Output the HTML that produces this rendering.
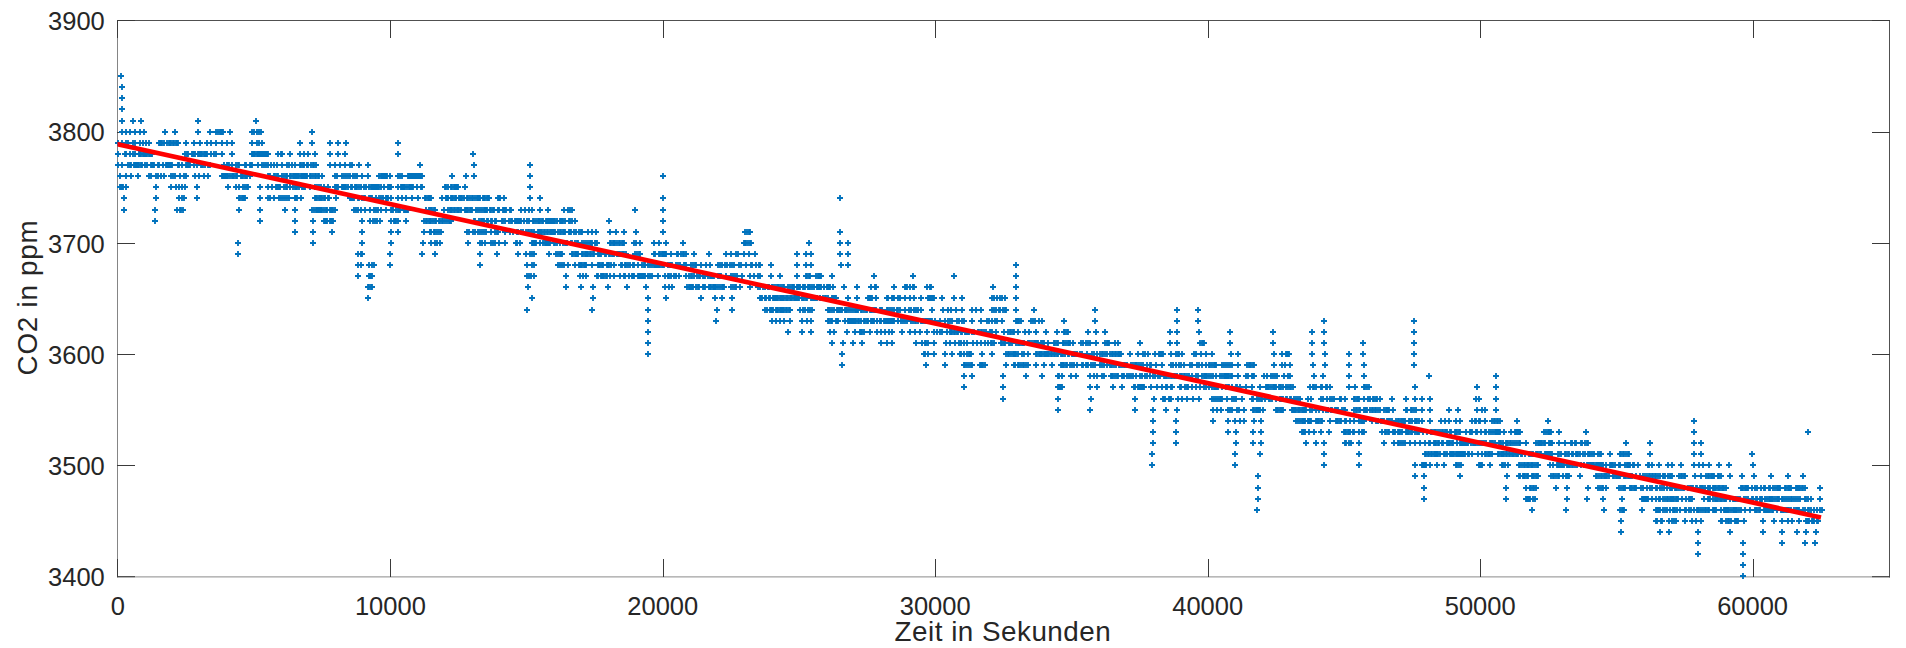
<!DOCTYPE html>
<html lang="de"><head><meta charset="utf-8"><title>CO2 in ppm</title>
<style>html,body{margin:0;padding:0;background:#fff;overflow:hidden}svg{display:block}text{font-family:"Liberation Sans",Arial,Helvetica,sans-serif}</style>
</head><body>
<svg width="1906" height="648" viewBox="0 0 1906 648">
<rect x="0" y="0" width="1906" height="648" fill="#fff"/>
<path d="M117.0 576.9H1890.0" stroke="#8a8a8a" stroke-width="1" fill="none"/>
<path d="M117.5 20.5V577.4" stroke="#858585" stroke-width="1" fill="none"/>
<path d="M117.0 20.5H1890.0" stroke="#505050" stroke-width="1" fill="none"/>
<path d="M1889.5 20.5V577.4" stroke="#505050" stroke-width="1" fill="none"/>
<path d="M117.5 577v-18M117.5 20.0v18M390.5 577v-18M390.5 20.0v18M663.5 577v-18M663.5 20.0v18M935.5 577v-18M935.5 20.0v18M1208.5 577v-18M1208.5 20.0v18M1480.5 577v-18M1480.5 20.0v18M1753.5 577v-18M1753.5 20.0v18M117.0 576.7h18M1890.0 576.7h-18M117.0 465.5h18M1890.0 465.5h-18M117.0 354.5h18M1890.0 354.5h-18M117.0 243.5h18M1890.0 243.5h-18M117.0 132.5h18M1890.0 132.5h-18M117.0 20.5h18M1890.0 20.5h-18" stroke="#3a3a3a" stroke-width="1" fill="none"/>
<path d="M118 76h6M121 73v6M119 87h6M122 84v6M119 98h6M122 95v6M119 109h6M122 106v6M119 121h6M122 118v6M130 121h6M133 118v6M138 121h6M141 118v6M195 121h6M198 118v6M253 121h6M256 118v6M119 132h6M122 129v6M132 132h6M135 129v6M123 132h6M126 129v6M127 132h6M130 129v6M137 132h6M140 129v6M141 132h6M144 129v6M162 132h6M165 129v6M172 132h6M175 129v6M195 132h6M198 129v6M207 132h6M210 129v6M213 132h6M216 129v6M220 132h6M223 129v6M215 132h6M218 129v6M217 132h6M220 129v6M218 132h6M221 129v6M219 132h6M222 129v6M227 132h6M230 129v6M249 132h6M252 129v6M258 132h6M261 129v6M251 132h6M254 129v6M254 132h6M257 129v6M256 132h6M259 129v6M309 132h6M312 129v6M115 143h6M118 140v6M119 143h6M122 140v6M132 143h6M135 140v6M123 143h6M126 140v6M125 143h6M128 140v6M130 143h6M133 140v6M137 143h6M140 140v6M146 143h6M149 140v6M140 143h6M143 140v6M143 143h6M146 140v6M156 143h6M159 140v6M175 143h6M178 140v6M157 143h6M160 140v6M158 143h6M161 140v6M159 143h6M162 140v6M161 143h6M164 140v6M164 143h6M167 140v6M166 143h6M169 140v6M167 143h6M170 140v6M168 143h6M171 140v6M170 143h6M173 140v6M171 143h6M174 140v6M173 143h6M176 140v6M174 143h6M177 140v6M183 143h6M186 140v6M191 143h6M194 140v6M229 143h6M232 140v6M197 143h6M200 140v6M204 143h6M207 140v6M208 143h6M211 140v6M213 143h6M216 140v6M219 143h6M222 140v6M224 143h6M227 140v6M249 143h6M252 140v6M259 143h6M262 140v6M254 143h6M257 140v6M256 143h6M259 140v6M297 143h6M300 140v6M309 143h6M312 140v6M327 143h6M330 140v6M335 143h6M338 140v6M343 143h6M346 140v6M395 143h6M398 140v6M115 154h6M118 151v6M122 154h6M125 151v6M123 154h6M126 151v6M149 154h6M152 151v6M127 154h6M130 151v6M130 154h6M133 151v6M132 154h6M135 151v6M136 154h6M139 151v6M137 154h6M140 151v6M138 154h6M141 151v6M140 154h6M143 151v6M141 154h6M144 151v6M142 154h6M145 151v6M143 154h6M146 151v6M144 154h6M147 151v6M146 154h6M149 151v6M147 154h6M150 151v6M148 154h6M151 151v6M182 154h6M185 151v6M213 154h6M216 151v6M184 154h6M187 151v6M185 154h6M188 151v6M189 154h6M192 151v6M190 154h6M193 151v6M191 154h6M194 151v6M192 154h6M195 151v6M195 154h6M198 151v6M196 154h6M199 151v6M197 154h6M200 151v6M198 154h6M201 151v6M199 154h6M202 151v6M201 154h6M204 151v6M202 154h6M205 151v6M203 154h6M206 151v6M204 154h6M207 151v6M208 154h6M211 151v6M211 154h6M214 151v6M219 154h6M222 151v6M229 154h6M232 151v6M249 154h6M252 151v6M265 154h6M268 151v6M250 154h6M253 151v6M251 154h6M254 151v6M252 154h6M255 151v6M254 154h6M257 151v6M255 154h6M258 151v6M256 154h6M259 151v6M257 154h6M260 151v6M258 154h6M261 151v6M259 154h6M262 151v6M260 154h6M263 151v6M261 154h6M264 151v6M262 154h6M265 151v6M263 154h6M266 151v6M264 154h6M267 151v6M275 154h6M278 151v6M279 154h6M282 151v6M278 154h6M281 151v6M287 154h6M290 151v6M297 154h6M300 151v6M312 154h6M315 151v6M301 154h6M304 151v6M305 154h6M308 151v6M327 154h6M330 151v6M335 154h6M338 151v6M342 154h6M345 151v6M395 154h6M398 151v6M470 154h6M473 151v6M115 165h6M118 162v6M125 165h6M128 162v6M119 165h6M122 162v6M127 165h6M130 162v6M169 165h6M172 162v6M128 165h6M131 162v6M131 165h6M134 162v6M132 165h6M135 162v6M133 165h6M136 162v6M134 165h6M137 162v6M135 165h6M138 162v6M136 165h6M139 162v6M138 165h6M141 162v6M139 165h6M142 162v6M142 165h6M145 162v6M144 165h6M147 162v6M148 165h6M151 162v6M149 165h6M152 162v6M150 165h6M153 162v6M151 165h6M154 162v6M155 165h6M158 162v6M156 165h6M159 162v6M160 165h6M163 162v6M163 165h6M166 162v6M164 165h6M167 162v6M165 165h6M168 162v6M166 165h6M169 162v6M167 165h6M170 162v6M168 165h6M171 162v6M175 165h6M178 162v6M207 165h6M210 162v6M176 165h6M179 162v6M179 165h6M182 162v6M183 165h6M186 162v6M184 165h6M187 162v6M185 165h6M188 162v6M186 165h6M189 162v6M187 165h6M190 162v6M191 165h6M194 162v6M194 165h6M197 162v6M198 165h6M201 162v6M199 165h6M202 162v6M200 165h6M203 162v6M202 165h6M205 162v6M205 165h6M208 162v6M206 165h6M209 162v6M221 165h6M224 162v6M236 165h6M239 162v6M224 165h6M227 162v6M225 165h6M228 162v6M226 165h6M229 162v6M229 165h6M232 162v6M233 165h6M236 162v6M235 165h6M238 162v6M242 165h6M245 162v6M249 165h6M252 162v6M243 165h6M246 162v6M247 165h6M250 162v6M248 165h6M251 162v6M255 165h6M258 162v6M292 165h6M295 162v6M259 165h6M262 162v6M261 165h6M264 162v6M263 165h6M266 162v6M265 165h6M268 162v6M268 165h6M271 162v6M271 165h6M274 162v6M274 165h6M277 162v6M279 165h6M282 162v6M284 165h6M287 162v6M286 165h6M289 162v6M289 165h6M292 162v6M297 165h6M300 162v6M313 165h6M316 162v6M298 165h6M301 162v6M300 165h6M303 162v6M301 165h6M304 162v6M304 165h6M307 162v6M305 165h6M308 162v6M308 165h6M311 162v6M310 165h6M313 162v6M311 165h6M314 162v6M327 165h6M330 162v6M349 165h6M352 162v6M332 165h6M335 162v6M337 165h6M340 162v6M342 165h6M345 162v6M347 165h6M350 162v6M356 165h6M359 162v6M365 165h6M368 162v6M417 165h6M420 162v6M471 165h6M474 162v6M527 165h6M530 162v6M117 176h6M120 173v6M123 176h6M126 173v6M128 176h6M131 173v6M135 176h6M138 173v6M146 176h6M149 173v6M161 176h6M164 173v6M148 176h6M151 173v6M153 176h6M156 173v6M155 176h6M158 173v6M158 176h6M161 173v6M168 176h6M171 173v6M183 176h6M186 173v6M170 176h6M173 173v6M172 176h6M175 173v6M177 176h6M180 173v6M181 176h6M184 173v6M192 176h6M195 173v6M205 176h6M208 173v6M196 176h6M199 173v6M201 176h6M204 173v6M219 176h6M222 173v6M247 176h6M250 173v6M220 176h6M223 173v6M221 176h6M224 173v6M222 176h6M225 173v6M223 176h6M226 173v6M224 176h6M227 173v6M225 176h6M228 173v6M227 176h6M230 173v6M229 176h6M232 173v6M230 176h6M233 173v6M231 176h6M234 173v6M233 176h6M236 173v6M234 176h6M237 173v6M238 176h6M241 173v6M239 176h6M242 173v6M240 176h6M243 173v6M242 176h6M245 173v6M243 176h6M246 173v6M244 176h6M247 173v6M265 176h6M268 173v6M319 176h6M322 173v6M266 176h6M269 173v6M267 176h6M270 173v6M271 176h6M274 173v6M272 176h6M275 173v6M274 176h6M277 173v6M275 176h6M278 173v6M279 176h6M282 173v6M281 176h6M284 173v6M283 176h6M286 173v6M284 176h6M287 173v6M287 176h6M290 173v6M288 176h6M291 173v6M290 176h6M293 173v6M291 176h6M294 173v6M292 176h6M295 173v6M293 176h6M296 173v6M294 176h6M297 173v6M295 176h6M298 173v6M296 176h6M299 173v6M298 176h6M301 173v6M299 176h6M302 173v6M300 176h6M303 173v6M301 176h6M304 173v6M302 176h6M305 173v6M303 176h6M306 173v6M304 176h6M307 173v6M307 176h6M310 173v6M308 176h6M311 173v6M310 176h6M313 173v6M312 176h6M315 173v6M313 176h6M316 173v6M315 176h6M318 173v6M316 176h6M319 173v6M332 176h6M335 173v6M359 176h6M362 173v6M334 176h6M337 173v6M339 176h6M342 173v6M341 176h6M344 173v6M343 176h6M346 173v6M345 176h6M348 173v6M347 176h6M350 173v6M350 176h6M353 173v6M352 176h6M355 173v6M354 176h6M357 173v6M365 176h6M368 173v6M376 176h6M379 173v6M387 176h6M390 173v6M378 176h6M381 173v6M379 176h6M382 173v6M380 176h6M383 173v6M381 176h6M384 173v6M382 176h6M385 173v6M383 176h6M386 173v6M384 176h6M387 173v6M395 176h6M398 173v6M399 176h6M402 173v6M397 176h6M400 173v6M405 176h6M408 173v6M419 176h6M422 173v6M406 176h6M409 173v6M407 176h6M410 173v6M408 176h6M411 173v6M409 176h6M412 173v6M410 176h6M413 173v6M411 176h6M414 173v6M412 176h6M415 173v6M413 176h6M416 173v6M414 176h6M417 173v6M415 176h6M418 173v6M416 176h6M419 173v6M417 176h6M420 173v6M418 176h6M421 173v6M449 176h6M452 173v6M463 176h6M466 173v6M471 176h6M474 173v6M527 176h6M530 173v6M117 187h6M120 184v6M123 187h6M126 184v6M118 187h6M121 184v6M119 187h6M122 184v6M120 187h6M123 184v6M153 187h6M156 184v6M168 187h6M171 184v6M182 187h6M185 184v6M173 187h6M176 184v6M176 187h6M179 184v6M179 187h6M182 184v6M194 187h6M197 184v6M225 187h6M228 184v6M233 187h6M236 184v6M245 187h6M248 184v6M236 187h6M239 184v6M240 187h6M243 184v6M242 187h6M245 184v6M244 187h6M247 184v6M257 187h6M260 184v6M265 187h6M268 184v6M302 187h6M305 184v6M269 187h6M272 184v6M273 187h6M276 184v6M274 187h6M277 184v6M275 187h6M278 184v6M276 187h6M279 184v6M277 187h6M280 184v6M281 187h6M284 184v6M283 187h6M286 184v6M284 187h6M287 184v6M287 187h6M290 184v6M290 187h6M293 184v6M292 187h6M295 184v6M293 187h6M296 184v6M294 187h6M297 184v6M296 187h6M299 184v6M299 187h6M302 184v6M300 187h6M303 184v6M301 187h6M304 184v6M307 187h6M310 184v6M325 187h6M328 184v6M312 187h6M315 184v6M314 187h6M317 184v6M316 187h6M319 184v6M318 187h6M321 184v6M321 187h6M324 184v6M332 187h6M335 184v6M388 187h6M391 184v6M333 187h6M336 184v6M334 187h6M337 184v6M335 187h6M338 184v6M339 187h6M342 184v6M340 187h6M343 184v6M341 187h6M344 184v6M342 187h6M345 184v6M343 187h6M346 184v6M345 187h6M348 184v6M348 187h6M351 184v6M349 187h6M352 184v6M352 187h6M355 184v6M353 187h6M356 184v6M354 187h6M357 184v6M356 187h6M359 184v6M358 187h6M361 184v6M361 187h6M364 184v6M363 187h6M366 184v6M366 187h6M369 184v6M368 187h6M371 184v6M369 187h6M372 184v6M370 187h6M373 184v6M371 187h6M374 184v6M372 187h6M375 184v6M373 187h6M376 184v6M374 187h6M377 184v6M375 187h6M378 184v6M376 187h6M379 184v6M378 187h6M381 184v6M381 187h6M384 184v6M385 187h6M388 184v6M386 187h6M389 184v6M387 187h6M390 184v6M395 187h6M398 184v6M419 187h6M422 184v6M398 187h6M401 184v6M399 187h6M402 184v6M400 187h6M403 184v6M401 187h6M404 184v6M402 187h6M405 184v6M404 187h6M407 184v6M406 187h6M409 184v6M407 187h6M410 184v6M408 187h6M411 184v6M409 187h6M412 184v6M410 187h6M413 184v6M414 187h6M417 184v6M418 187h6M421 184v6M442 187h6M445 184v6M455 187h6M458 184v6M443 187h6M446 184v6M445 187h6M448 184v6M448 187h6M451 184v6M449 187h6M452 184v6M451 187h6M454 184v6M452 187h6M455 184v6M453 187h6M456 184v6M454 187h6M457 184v6M462 187h6M465 184v6M527 187h6M530 184v6M121 198h6M124 195v6M153 198h6M156 195v6M176 198h6M179 195v6M181 198h6M184 195v6M179 198h6M182 195v6M194 198h6M197 195v6M236 198h6M239 195v6M242 198h6M245 195v6M237 198h6M240 195v6M239 198h6M242 195v6M240 198h6M243 195v6M241 198h6M244 195v6M257 198h6M260 195v6M265 198h6M268 195v6M286 198h6M289 195v6M267 198h6M270 195v6M271 198h6M274 195v6M276 198h6M279 195v6M278 198h6M281 195v6M280 198h6M283 195v6M282 198h6M285 195v6M284 198h6M287 195v6M292 198h6M295 195v6M298 198h6M301 195v6M293 198h6M296 195v6M294 198h6M297 195v6M312 198h6M315 195v6M326 198h6M329 195v6M313 198h6M316 195v6M314 198h6M317 195v6M316 198h6M319 195v6M317 198h6M320 195v6M318 198h6M321 195v6M319 198h6M322 195v6M321 198h6M324 195v6M322 198h6M325 195v6M325 198h6M328 195v6M333 198h6M336 195v6M347 198h6M350 195v6M388 198h6M391 195v6M348 198h6M351 195v6M349 198h6M352 195v6M350 198h6M353 195v6M351 198h6M354 195v6M355 198h6M358 195v6M356 198h6M359 195v6M359 198h6M362 195v6M361 198h6M364 195v6M362 198h6M365 195v6M366 198h6M369 195v6M367 198h6M370 195v6M368 198h6M371 195v6M369 198h6M372 195v6M373 198h6M376 195v6M376 198h6M379 195v6M378 198h6M381 195v6M380 198h6M383 195v6M383 198h6M386 195v6M384 198h6M387 195v6M385 198h6M388 195v6M395 198h6M398 195v6M415 198h6M418 195v6M399 198h6M402 195v6M403 198h6M406 195v6M409 198h6M412 195v6M422 198h6M425 195v6M428 198h6M431 195v6M423 198h6M426 195v6M425 198h6M428 195v6M426 198h6M429 195v6M427 198h6M430 195v6M439 198h6M442 195v6M486 198h6M489 195v6M443 198h6M446 195v6M444 198h6M447 195v6M445 198h6M448 195v6M448 198h6M451 195v6M449 198h6M452 195v6M450 198h6M453 195v6M452 198h6M455 195v6M453 198h6M456 195v6M456 198h6M459 195v6M457 198h6M460 195v6M458 198h6M461 195v6M459 198h6M462 195v6M461 198h6M464 195v6M464 198h6M467 195v6M465 198h6M468 195v6M467 198h6M470 195v6M469 198h6M472 195v6M470 198h6M473 195v6M472 198h6M475 195v6M474 198h6M477 195v6M475 198h6M478 195v6M476 198h6M479 195v6M477 198h6M480 195v6M480 198h6M483 195v6M481 198h6M484 195v6M482 198h6M485 195v6M484 198h6M487 195v6M485 198h6M488 195v6M495 198h6M498 195v6M501 198h6M504 195v6M496 198h6M499 195v6M497 198h6M500 195v6M527 198h6M530 195v6M537 198h6M540 195v6M121 210h6M124 207v6M152 210h6M155 207v6M174 210h6M177 207v6M180 210h6M183 207v6M177 210h6M180 207v6M178 210h6M181 207v6M236 210h6M239 207v6M257 210h6M260 207v6M282 210h6M285 207v6M292 210h6M295 207v6M309 210h6M312 207v6M332 210h6M335 207v6M311 210h6M314 207v6M313 210h6M316 207v6M314 210h6M317 207v6M315 210h6M318 207v6M316 210h6M319 207v6M317 210h6M320 207v6M318 210h6M321 207v6M319 210h6M322 207v6M321 210h6M324 207v6M323 210h6M326 207v6M324 210h6M327 207v6M327 210h6M330 207v6M328 210h6M331 207v6M329 210h6M332 207v6M330 210h6M333 207v6M351 210h6M354 207v6M362 210h6M365 207v6M353 210h6M356 207v6M355 210h6M358 207v6M358 210h6M361 207v6M367 210h6M370 207v6M383 210h6M386 207v6M371 210h6M374 207v6M373 210h6M376 207v6M375 210h6M378 207v6M378 210h6M381 207v6M388 210h6M391 207v6M405 210h6M408 207v6M389 210h6M392 207v6M390 210h6M393 207v6M393 210h6M396 207v6M395 210h6M398 207v6M396 210h6M399 207v6M397 210h6M400 207v6M401 210h6M404 207v6M402 210h6M405 207v6M403 210h6M406 207v6M404 210h6M407 207v6M423 210h6M426 207v6M432 210h6M435 207v6M426 210h6M429 207v6M427 210h6M430 207v6M428 210h6M431 207v6M429 210h6M432 207v6M431 210h6M434 207v6M441 210h6M444 207v6M508 210h6M511 207v6M445 210h6M448 207v6M447 210h6M450 207v6M448 210h6M451 207v6M449 210h6M452 207v6M451 210h6M454 207v6M452 210h6M455 207v6M454 210h6M457 207v6M455 210h6M458 207v6M456 210h6M459 207v6M458 210h6M461 207v6M462 210h6M465 207v6M463 210h6M466 207v6M464 210h6M467 207v6M465 210h6M468 207v6M467 210h6M470 207v6M468 210h6M471 207v6M469 210h6M472 207v6M473 210h6M476 207v6M475 210h6M478 207v6M477 210h6M480 207v6M479 210h6M482 207v6M481 210h6M484 207v6M482 210h6M485 207v6M483 210h6M486 207v6M484 210h6M487 207v6M487 210h6M490 207v6M488 210h6M491 207v6M490 210h6M493 207v6M491 210h6M494 207v6M495 210h6M498 207v6M496 210h6M499 207v6M500 210h6M503 207v6M501 210h6M504 207v6M502 210h6M505 207v6M503 210h6M506 207v6M507 210h6M510 207v6M518 210h6M521 207v6M529 210h6M532 207v6M522 210h6M525 207v6M526 210h6M529 207v6M537 210h6M540 207v6M545 210h6M548 207v6M561 210h6M564 207v6M569 210h6M572 207v6M565 210h6M568 207v6M567 210h6M570 207v6M152 221h6M155 218v6M257 221h6M260 218v6M292 221h6M295 218v6M310 221h6M313 218v6M321 221h6M324 218v6M330 221h6M333 218v6M322 221h6M325 218v6M323 221h6M326 218v6M324 221h6M327 218v6M327 221h6M330 218v6M328 221h6M331 218v6M329 221h6M332 218v6M359 221h6M362 218v6M367 221h6M370 218v6M377 221h6M380 218v6M370 221h6M373 218v6M372 221h6M375 218v6M374 221h6M377 218v6M388 221h6M391 218v6M395 221h6M398 218v6M391 221h6M394 218v6M392 221h6M395 218v6M393 221h6M396 218v6M403 221h6M406 218v6M421 221h6M424 218v6M448 221h6M451 218v6M423 221h6M426 218v6M424 221h6M427 218v6M426 221h6M429 218v6M427 221h6M430 218v6M428 221h6M431 218v6M430 221h6M433 218v6M432 221h6M435 218v6M433 221h6M436 218v6M436 221h6M439 218v6M437 221h6M440 218v6M439 221h6M442 218v6M440 221h6M443 218v6M442 221h6M445 218v6M444 221h6M447 218v6M446 221h6M449 218v6M447 221h6M450 218v6M471 221h6M474 218v6M493 221h6M496 218v6M472 221h6M475 218v6M476 221h6M479 218v6M478 221h6M481 218v6M479 221h6M482 218v6M480 221h6M483 218v6M481 221h6M484 218v6M484 221h6M487 218v6M485 221h6M488 218v6M488 221h6M491 218v6M489 221h6M492 218v6M492 221h6M495 218v6M499 221h6M502 218v6M572 221h6M575 218v6M500 221h6M503 218v6M502 221h6M505 218v6M506 221h6M509 218v6M508 221h6M511 218v6M509 221h6M512 218v6M512 221h6M515 218v6M513 221h6M516 218v6M514 221h6M517 218v6M515 221h6M518 218v6M516 221h6M519 218v6M517 221h6M520 218v6M518 221h6M521 218v6M521 221h6M524 218v6M524 221h6M527 218v6M526 221h6M529 218v6M530 221h6M533 218v6M531 221h6M534 218v6M533 221h6M536 218v6M535 221h6M538 218v6M536 221h6M539 218v6M537 221h6M540 218v6M539 221h6M542 218v6M540 221h6M543 218v6M543 221h6M546 218v6M544 221h6M547 218v6M545 221h6M548 218v6M546 221h6M549 218v6M547 221h6M550 218v6M548 221h6M551 218v6M549 221h6M552 218v6M550 221h6M553 218v6M551 221h6M554 218v6M552 221h6M555 218v6M554 221h6M557 218v6M557 221h6M560 218v6M558 221h6M561 218v6M559 221h6M562 218v6M560 221h6M563 218v6M562 221h6M565 218v6M566 221h6M569 218v6M567 221h6M570 218v6M569 221h6M572 218v6M292 232h6M295 229v6M310 232h6M313 229v6M329 232h6M332 229v6M359 232h6M362 229v6M388 232h6M391 229v6M395 232h6M398 229v6M421 232h6M424 229v6M427 232h6M430 229v6M438 232h6M441 229v6M428 232h6M431 229v6M431 232h6M434 229v6M432 232h6M435 229v6M434 232h6M437 229v6M436 232h6M439 229v6M464 232h6M467 229v6M483 232h6M486 229v6M466 232h6M469 229v6M470 232h6M473 229v6M472 232h6M475 229v6M475 232h6M478 229v6M477 232h6M480 229v6M479 232h6M482 229v6M481 232h6M484 229v6M488 232h6M491 229v6M495 232h6M498 229v6M492 232h6M495 229v6M494 232h6M497 229v6M502 232h6M505 229v6M507 232h6M510 229v6M529 232h6M532 229v6M510 232h6M513 229v6M514 232h6M517 229v6M515 232h6M518 229v6M518 232h6M521 229v6M520 232h6M523 229v6M523 232h6M526 229v6M525 232h6M528 229v6M526 232h6M529 229v6M528 232h6M531 229v6M579 232h6M582 229v6M531 232h6M534 229v6M535 232h6M538 229v6M536 232h6M539 229v6M537 232h6M540 229v6M538 232h6M541 229v6M539 232h6M542 229v6M541 232h6M544 229v6M542 232h6M545 229v6M544 232h6M547 229v6M545 232h6M548 229v6M547 232h6M550 229v6M548 232h6M551 229v6M549 232h6M552 229v6M550 232h6M553 229v6M551 232h6M554 229v6M552 232h6M555 229v6M555 232h6M558 229v6M557 232h6M560 229v6M558 232h6M561 229v6M560 232h6M563 229v6M561 232h6M564 229v6M562 232h6M565 229v6M566 232h6M569 229v6M567 232h6M570 229v6M568 232h6M571 229v6M571 232h6M574 229v6M573 232h6M576 229v6M576 232h6M579 229v6M578 232h6M581 229v6M235 243h6M238 240v6M310 243h6M313 240v6M359 243h6M362 240v6M388 243h6M391 240v6M420 243h6M423 240v6M428 243h6M431 240v6M437 243h6M440 240v6M432 243h6M435 240v6M434 243h6M437 240v6M465 243h6M468 240v6M477 243h6M480 240v6M482 243h6M485 240v6M479 243h6M482 240v6M488 243h6M491 240v6M496 243h6M499 240v6M490 243h6M493 240v6M492 243h6M495 240v6M502 243h6M505 240v6M513 243h6M516 240v6M517 243h6M520 240v6M514 243h6M517 240v6M529 243h6M532 240v6M569 243h6M572 240v6M530 243h6M533 240v6M531 243h6M534 240v6M532 243h6M535 240v6M533 243h6M536 240v6M537 243h6M540 240v6M540 243h6M543 240v6M542 243h6M545 240v6M543 243h6M546 240v6M544 243h6M547 240v6M545 243h6M548 240v6M546 243h6M549 240v6M547 243h6M550 240v6M551 243h6M554 240v6M552 243h6M555 240v6M554 243h6M557 240v6M557 243h6M560 240v6M560 243h6M563 240v6M562 243h6M565 240v6M563 243h6M566 240v6M564 243h6M567 240v6M568 243h6M571 240v6M572 243h6M575 240v6M583 243h6M586 240v6M574 243h6M577 240v6M575 243h6M578 240v6M579 243h6M582 240v6M581 243h6M584 240v6M235 254h6M238 251v6M355 254h6M358 251v6M359 254h6M362 251v6M358 254h6M361 251v6M387 254h6M390 251v6M419 254h6M422 251v6M432 254h6M435 251v6M477 254h6M480 251v6M494 254h6M497 251v6M515 254h6M518 251v6M523 254h6M526 251v6M531 254h6M534 251v6M527 254h6M530 251v6M529 254h6M532 251v6M546 254h6M549 251v6M553 254h6M556 251v6M559 254h6M562 251v6M555 254h6M558 251v6M557 254h6M560 251v6M558 254h6M561 251v6M569 254h6M572 251v6M583 254h6M586 251v6M570 254h6M573 251v6M572 254h6M575 251v6M573 254h6M576 251v6M574 254h6M577 251v6M575 254h6M578 251v6M579 254h6M582 251v6M580 254h6M583 251v6M582 254h6M585 251v6M355 265h6M358 262v6M358 265h6M361 262v6M366 265h6M369 262v6M371 265h6M374 262v6M369 265h6M372 262v6M387 265h6M390 262v6M477 265h6M480 262v6M524 265h6M527 262v6M531 265h6M534 262v6M529 265h6M532 262v6M555 265h6M558 262v6M565 265h6M568 262v6M557 265h6M560 262v6M559 265h6M562 262v6M561 265h6M564 262v6M572 265h6M575 262v6M583 265h6M586 262v6M576 265h6M579 262v6M577 265h6M580 262v6M578 265h6M581 262v6M579 265h6M582 262v6M581 265h6M584 262v6M582 265h6M585 262v6M355 276h6M358 273v6M366 276h6M369 273v6M369 276h6M372 273v6M367 276h6M370 273v6M368 276h6M371 273v6M524 276h6M527 273v6M531 276h6M534 273v6M526 276h6M529 273v6M528 276h6M531 273v6M563 276h6M566 273v6M577 276h6M580 273v6M583 276h6M586 273v6M580 276h6M583 273v6M365 287h6M368 284v6M369 287h6M372 284v6M366 287h6M369 284v6M368 287h6M371 284v6M525 287h6M528 284v6M563 287h6M566 284v6M578 287h6M581 284v6M365 298h6M368 295v6M529 298h6M532 295v6M524 310h6M527 307v6M660 176h6M663 173v6M660 198h6M663 195v6M837 198h6M840 195v6M632 210h6M635 207v6M660 210h6M663 207v6M606 221h6M609 218v6M660 221h6M663 218v6M585 232h6M588 229v6M593 232h6M596 229v6M589 232h6M592 229v6M607 232h6M610 229v6M621 232h6M624 229v6M613 232h6M616 229v6M633 232h6M636 229v6M660 232h6M663 229v6M742 232h6M745 229v6M747 232h6M750 229v6M744 232h6M747 229v6M746 232h6M749 229v6M837 232h6M840 229v6M585 243h6M588 240v6M594 243h6M597 240v6M587 243h6M590 240v6M588 243h6M591 240v6M589 243h6M592 240v6M592 243h6M595 240v6M593 243h6M596 240v6M607 243h6M610 240v6M621 243h6M624 240v6M608 243h6M611 240v6M610 243h6M613 240v6M611 243h6M614 240v6M612 243h6M615 240v6M614 243h6M617 240v6M616 243h6M619 240v6M617 243h6M620 240v6M619 243h6M622 240v6M620 243h6M623 240v6M631 243h6M634 240v6M637 243h6M640 240v6M633 243h6M636 240v6M651 243h6M654 240v6M663 243h6M666 240v6M656 243h6M659 240v6M680 243h6M683 240v6M741 243h6M744 240v6M748 243h6M751 240v6M742 243h6M745 240v6M743 243h6M746 240v6M745 243h6M748 240v6M747 243h6M750 240v6M806 243h6M809 240v6M837 243h6M840 240v6M845 243h6M848 240v6M623 254h6M626 251v6M584 254h6M587 251v6M585 254h6M588 251v6M587 254h6M590 251v6M588 254h6M591 251v6M590 254h6M593 251v6M591 254h6M594 251v6M595 254h6M598 251v6M596 254h6M599 251v6M597 254h6M600 251v6M598 254h6M601 251v6M602 254h6M605 251v6M603 254h6M606 251v6M606 254h6M609 251v6M607 254h6M610 251v6M609 254h6M612 251v6M610 254h6M613 251v6M611 254h6M614 251v6M614 254h6M617 251v6M615 254h6M618 251v6M616 254h6M619 251v6M617 254h6M620 251v6M619 254h6M622 251v6M620 254h6M623 251v6M621 254h6M624 251v6M632 254h6M635 251v6M637 254h6M640 251v6M634 254h6M637 251v6M636 254h6M639 251v6M651 254h6M654 251v6M663 254h6M666 251v6M652 254h6M655 251v6M656 254h6M659 251v6M657 254h6M660 251v6M659 254h6M662 251v6M660 254h6M663 251v6M661 254h6M664 251v6M662 254h6M665 251v6M668 254h6M671 251v6M674 254h6M677 251v6M683 254h6M686 251v6M675 254h6M678 251v6M678 254h6M681 251v6M680 254h6M683 251v6M681 254h6M684 251v6M691 254h6M694 251v6M706 254h6M709 251v6M723 254h6M726 251v6M735 254h6M738 251v6M728 254h6M731 251v6M733 254h6M736 251v6M741 254h6M744 251v6M752 254h6M755 251v6M746 254h6M749 251v6M794 254h6M797 251v6M803 254h6M806 251v6M808 254h6M811 251v6M837 254h6M840 251v6M845 254h6M848 251v6M589 265h6M592 262v6M595 265h6M598 262v6M611 265h6M614 262v6M596 265h6M599 262v6M597 265h6M600 262v6M599 265h6M602 262v6M600 265h6M603 262v6M604 265h6M607 262v6M605 265h6M608 262v6M606 265h6M609 262v6M608 265h6M611 262v6M618 265h6M621 262v6M642 265h6M645 262v6M619 265h6M622 262v6M622 265h6M625 262v6M623 265h6M626 262v6M625 265h6M628 262v6M627 265h6M630 262v6M630 265h6M633 262v6M631 265h6M634 262v6M635 265h6M638 262v6M639 265h6M642 262v6M641 265h6M644 262v6M645 265h6M648 262v6M683 265h6M686 262v6M647 265h6M650 262v6M649 265h6M652 262v6M651 265h6M654 262v6M652 265h6M655 262v6M653 265h6M656 262v6M654 265h6M657 262v6M655 265h6M658 262v6M656 265h6M659 262v6M657 265h6M660 262v6M659 265h6M662 262v6M660 265h6M663 262v6M661 265h6M664 262v6M665 265h6M668 262v6M667 265h6M670 262v6M668 265h6M671 262v6M669 265h6M672 262v6M673 265h6M676 262v6M675 265h6M678 262v6M677 265h6M680 262v6M681 265h6M684 262v6M682 265h6M685 262v6M688 265h6M691 262v6M693 265h6M696 262v6M690 265h6M693 262v6M692 265h6M695 262v6M698 265h6M701 262v6M707 265h6M710 262v6M703 265h6M706 262v6M715 265h6M718 262v6M743 265h6M746 262v6M717 265h6M720 262v6M719 265h6M722 262v6M722 265h6M725 262v6M724 265h6M727 262v6M727 265h6M730 262v6M729 265h6M732 262v6M731 265h6M734 262v6M736 265h6M739 262v6M738 265h6M741 262v6M748 265h6M751 262v6M757 265h6M760 262v6M749 265h6M752 262v6M753 265h6M756 262v6M756 265h6M759 262v6M768 265h6M771 262v6M794 265h6M797 262v6M803 265h6M806 262v6M808 265h6M811 262v6M838 265h6M841 262v6M845 265h6M848 262v6M1013 265h6M1016 262v6M594 276h6M597 273v6M611 276h6M614 273v6M595 276h6M598 273v6M598 276h6M601 273v6M599 276h6M602 273v6M600 276h6M603 273v6M601 276h6M604 273v6M603 276h6M606 273v6M604 276h6M607 273v6M607 276h6M610 273v6M617 276h6M620 273v6M631 276h6M634 273v6M621 276h6M624 273v6M622 276h6M625 273v6M626 276h6M629 273v6M629 276h6M632 273v6M630 276h6M633 273v6M635 276h6M638 273v6M649 276h6M652 273v6M636 276h6M639 273v6M637 276h6M640 273v6M638 276h6M641 273v6M639 276h6M642 273v6M640 276h6M643 273v6M641 276h6M644 273v6M642 276h6M645 273v6M645 276h6M648 273v6M647 276h6M650 273v6M655 276h6M658 273v6M662 276h6M665 273v6M673 276h6M676 273v6M665 276h6M668 273v6M666 276h6M669 273v6M668 276h6M671 273v6M671 276h6M674 273v6M676 276h6M679 273v6M683 276h6M686 273v6M711 276h6M714 273v6M686 276h6M689 273v6M688 276h6M691 273v6M689 276h6M692 273v6M691 276h6M694 273v6M694 276h6M697 273v6M696 276h6M699 273v6M697 276h6M700 273v6M700 276h6M703 273v6M701 276h6M704 273v6M702 276h6M705 273v6M705 276h6M708 273v6M707 276h6M710 273v6M708 276h6M711 273v6M709 276h6M712 273v6M710 276h6M713 273v6M718 276h6M721 273v6M715 276h6M718 273v6M716 276h6M719 273v6M717 276h6M720 273v6M739 276h6M742 273v6M723 276h6M726 273v6M728 276h6M731 273v6M730 276h6M733 273v6M732 276h6M735 273v6M734 276h6M737 273v6M747 276h6M750 273v6M757 276h6M760 273v6M751 276h6M754 273v6M755 276h6M758 273v6M768 276h6M771 273v6M777 276h6M780 273v6M794 276h6M797 273v6M803 276h6M806 273v6M807 276h6M810 273v6M804 276h6M807 273v6M806 276h6M809 273v6M813 276h6M816 273v6M818 276h6M821 273v6M815 276h6M818 273v6M816 276h6M819 273v6M817 276h6M820 273v6M829 276h6M832 273v6M871 276h6M874 273v6M910 276h6M913 273v6M951 276h6M954 273v6M1013 276h6M1016 273v6M590 287h6M593 284v6M605 287h6M608 284v6M624 287h6M627 284v6M643 287h6M646 284v6M662 287h6M665 284v6M669 287h6M672 284v6M666 287h6M669 284v6M684 287h6M687 284v6M721 287h6M724 284v6M686 287h6M689 284v6M687 287h6M690 284v6M688 287h6M691 284v6M689 287h6M692 284v6M690 287h6M693 284v6M693 287h6M696 284v6M695 287h6M698 284v6M696 287h6M699 284v6M700 287h6M703 284v6M701 287h6M704 284v6M702 287h6M705 284v6M706 287h6M709 284v6M707 287h6M710 284v6M708 287h6M711 284v6M710 287h6M713 284v6M711 287h6M714 284v6M712 287h6M715 284v6M713 287h6M716 284v6M715 287h6M718 284v6M717 287h6M720 284v6M719 287h6M722 284v6M720 287h6M723 284v6M728 287h6M731 284v6M737 287h6M740 284v6M730 287h6M733 284v6M732 287h6M735 284v6M733 287h6M736 284v6M747 287h6M750 284v6M755 287h6M758 284v6M781 287h6M784 284v6M757 287h6M760 284v6M760 287h6M763 284v6M762 287h6M765 284v6M765 287h6M768 284v6M766 287h6M769 284v6M769 287h6M772 284v6M770 287h6M773 284v6M772 287h6M775 284v6M774 287h6M777 284v6M775 287h6M778 284v6M776 287h6M779 284v6M778 287h6M781 284v6M780 287h6M783 284v6M785 287h6M788 284v6M827 287h6M830 284v6M787 287h6M790 284v6M789 287h6M792 284v6M790 287h6M793 284v6M791 287h6M794 284v6M794 287h6M797 284v6M795 287h6M798 284v6M796 287h6M799 284v6M797 287h6M800 284v6M800 287h6M803 284v6M801 287h6M804 284v6M802 287h6M805 284v6M805 287h6M808 284v6M806 287h6M809 284v6M807 287h6M810 284v6M809 287h6M812 284v6M811 287h6M814 284v6M814 287h6M817 284v6M815 287h6M818 284v6M816 287h6M819 284v6M817 287h6M820 284v6M818 287h6M821 284v6M821 287h6M824 284v6M824 287h6M827 284v6M825 287h6M828 284v6M826 287h6M829 284v6M830 287h6M833 284v6M841 287h6M844 284v6M854 287h6M857 284v6M868 287h6M871 284v6M873 287h6M876 284v6M872 287h6M875 284v6M891 287h6M894 284v6M902 287h6M905 284v6M911 287h6M914 284v6M903 287h6M906 284v6M904 287h6M907 284v6M907 287h6M910 284v6M910 287h6M913 284v6M924 287h6M927 284v6M928 287h6M931 284v6M927 287h6M930 284v6M990 287h6M993 284v6M1013 287h6M1016 284v6M590 298h6M593 295v6M645 298h6M648 295v6M663 298h6M666 295v6M698 298h6M701 295v6M712 298h6M715 295v6M719 298h6M722 295v6M729 298h6M732 295v6M757 298h6M760 295v6M781 298h6M784 295v6M758 298h6M761 295v6M759 298h6M762 295v6M762 298h6M765 295v6M763 298h6M766 295v6M766 298h6M769 295v6M767 298h6M770 295v6M770 298h6M773 295v6M771 298h6M774 295v6M772 298h6M775 295v6M773 298h6M776 295v6M774 298h6M777 295v6M775 298h6M778 295v6M777 298h6M780 295v6M778 298h6M781 295v6M779 298h6M782 295v6M780 298h6M783 295v6M783 298h6M786 295v6M803 298h6M806 295v6M784 298h6M787 295v6M785 298h6M788 295v6M787 298h6M790 295v6M788 298h6M791 295v6M789 298h6M792 295v6M791 298h6M794 295v6M792 298h6M795 295v6M793 298h6M796 295v6M794 298h6M797 295v6M795 298h6M798 295v6M796 298h6M799 295v6M799 298h6M802 295v6M800 298h6M803 295v6M801 298h6M804 295v6M833 298h6M836 295v6M804 298h6M807 295v6M808 298h6M811 295v6M809 298h6M812 295v6M810 298h6M813 295v6M811 298h6M814 295v6M812 298h6M815 295v6M813 298h6M816 295v6M814 298h6M817 295v6M817 298h6M820 295v6M820 298h6M823 295v6M822 298h6M825 295v6M823 298h6M826 295v6M825 298h6M828 295v6M829 298h6M832 295v6M830 298h6M833 295v6M831 298h6M834 295v6M832 298h6M835 295v6M845 298h6M848 295v6M854 298h6M857 295v6M865 298h6M868 295v6M873 298h6M876 295v6M866 298h6M869 295v6M867 298h6M870 295v6M868 298h6M871 295v6M869 298h6M872 295v6M884 298h6M887 295v6M897 298h6M900 295v6M885 298h6M888 295v6M889 298h6M892 295v6M890 298h6M893 295v6M891 298h6M894 295v6M895 298h6M898 295v6M902 298h6M905 295v6M918 298h6M921 295v6M907 298h6M910 295v6M911 298h6M914 295v6M925 298h6M928 295v6M931 298h6M934 295v6M926 298h6M929 295v6M927 298h6M930 295v6M928 298h6M931 295v6M929 298h6M932 295v6M930 298h6M933 295v6M939 298h6M942 295v6M951 298h6M954 295v6M959 298h6M962 295v6M989 298h6M992 295v6M1002 298h6M1005 295v6M991 298h6M994 295v6M994 298h6M997 295v6M997 298h6M1000 295v6M999 298h6M1002 295v6M1013 298h6M1016 295v6M589 310h6M592 307v6M645 310h6M648 307v6M714 310h6M717 307v6M729 310h6M732 307v6M762 310h6M765 307v6M787 310h6M790 307v6M764 310h6M767 307v6M767 310h6M770 307v6M768 310h6M771 307v6M769 310h6M772 307v6M770 310h6M773 307v6M773 310h6M776 307v6M774 310h6M777 307v6M775 310h6M778 307v6M777 310h6M780 307v6M778 310h6M781 307v6M779 310h6M782 307v6M780 310h6M783 307v6M781 310h6M784 307v6M783 310h6M786 307v6M784 310h6M787 307v6M786 310h6M789 307v6M797 310h6M800 307v6M809 310h6M812 307v6M800 310h6M803 307v6M802 310h6M805 307v6M805 310h6M808 307v6M807 310h6M810 307v6M825 310h6M828 307v6M855 310h6M858 307v6M826 310h6M829 307v6M827 310h6M830 307v6M829 310h6M832 307v6M831 310h6M834 307v6M834 310h6M837 307v6M835 310h6M838 307v6M836 310h6M839 307v6M837 310h6M840 307v6M838 310h6M841 307v6M839 310h6M842 307v6M842 310h6M845 307v6M843 310h6M846 307v6M844 310h6M847 307v6M846 310h6M849 307v6M848 310h6M851 307v6M850 310h6M853 307v6M852 310h6M855 307v6M853 310h6M856 307v6M854 310h6M857 307v6M879 310h6M882 307v6M858 310h6M861 307v6M859 310h6M862 307v6M861 310h6M864 307v6M863 310h6M866 307v6M864 310h6M867 307v6M867 310h6M870 307v6M868 310h6M871 307v6M869 310h6M872 307v6M871 310h6M874 307v6M872 310h6M875 307v6M873 310h6M876 307v6M877 310h6M880 307v6M878 310h6M881 307v6M884 310h6M887 307v6M897 310h6M900 307v6M885 310h6M888 307v6M887 310h6M890 307v6M889 310h6M892 307v6M891 310h6M894 307v6M894 310h6M897 307v6M895 310h6M898 307v6M902 310h6M905 307v6M918 310h6M921 307v6M906 310h6M909 307v6M908 310h6M911 307v6M911 310h6M914 307v6M913 310h6M916 307v6M915 310h6M918 307v6M929 310h6M932 307v6M940 310h6M943 307v6M945 310h6M948 307v6M959 310h6M962 307v6M948 310h6M951 307v6M953 310h6M956 307v6M969 310h6M972 307v6M978 310h6M981 307v6M973 310h6M976 307v6M989 310h6M992 307v6M1003 310h6M1006 307v6M991 310h6M994 307v6M993 310h6M996 307v6M996 310h6M999 307v6M997 310h6M1000 307v6M1000 310h6M1003 307v6M1002 310h6M1005 307v6M1013 310h6M1016 307v6M1031 310h6M1034 307v6M645 321h6M648 318v6M713 321h6M716 318v6M769 321h6M772 318v6M787 321h6M790 318v6M773 321h6M776 318v6M777 321h6M780 318v6M781 321h6M784 318v6M799 321h6M802 318v6M808 321h6M811 318v6M804 321h6M807 318v6M825 321h6M828 318v6M835 321h6M838 318v6M826 321h6M829 318v6M828 321h6M831 318v6M829 321h6M832 318v6M833 321h6M836 318v6M834 321h6M837 318v6M842 321h6M845 318v6M887 321h6M890 318v6M845 321h6M848 318v6M846 321h6M849 318v6M847 321h6M850 318v6M848 321h6M851 318v6M849 321h6M852 318v6M850 321h6M853 318v6M851 321h6M854 318v6M852 321h6M855 318v6M853 321h6M856 318v6M855 321h6M858 318v6M856 321h6M859 318v6M858 321h6M861 318v6M861 321h6M864 318v6M862 321h6M865 318v6M864 321h6M867 318v6M865 321h6M868 318v6M868 321h6M871 318v6M869 321h6M872 318v6M870 321h6M873 318v6M871 321h6M874 318v6M874 321h6M877 318v6M877 321h6M880 318v6M878 321h6M881 318v6M881 321h6M884 318v6M882 321h6M885 318v6M883 321h6M886 318v6M884 321h6M887 318v6M885 321h6M888 318v6M886 321h6M889 318v6M898 321h6M901 318v6M888 321h6M891 318v6M889 321h6M892 318v6M890 321h6M893 318v6M891 321h6M894 318v6M895 321h6M898 318v6M932 321h6M935 318v6M900 321h6M903 318v6M902 321h6M905 318v6M904 321h6M907 318v6M908 321h6M911 318v6M910 321h6M913 318v6M912 321h6M915 318v6M913 321h6M916 318v6M915 321h6M918 318v6M918 321h6M921 318v6M919 321h6M922 318v6M920 321h6M923 318v6M922 321h6M925 318v6M923 321h6M926 318v6M924 321h6M927 318v6M925 321h6M928 318v6M926 321h6M929 318v6M927 321h6M930 318v6M928 321h6M931 318v6M929 321h6M932 318v6M961 321h6M964 318v6M937 321h6M940 318v6M942 321h6M945 318v6M945 321h6M948 318v6M947 321h6M950 318v6M949 321h6M952 318v6M954 321h6M957 318v6M956 321h6M959 318v6M959 321h6M962 318v6M969 321h6M972 318v6M978 321h6M981 318v6M984 321h6M987 318v6M999 321h6M1002 318v6M986 321h6M989 318v6M989 321h6M992 318v6M992 321h6M995 318v6M994 321h6M997 318v6M1013 321h6M1016 318v6M1018 321h6M1021 318v6M1014 321h6M1017 318v6M1015 321h6M1018 318v6M1016 321h6M1019 318v6M1028 321h6M1031 318v6M1039 321h6M1042 318v6M1030 321h6M1033 318v6M1032 321h6M1035 318v6M1036 321h6M1039 318v6M645 332h6M648 329v6M785 332h6M788 329v6M799 332h6M802 329v6M808 332h6M811 329v6M827 332h6M830 329v6M831 332h6M834 329v6M844 332h6M847 329v6M852 332h6M855 329v6M857 332h6M860 329v6M861 332h6M864 329v6M858 332h6M861 329v6M859 332h6M862 329v6M867 332h6M870 329v6M874 332h6M877 329v6M878 332h6M881 329v6M889 332h6M892 329v6M882 332h6M885 329v6M886 332h6M889 329v6M899 332h6M902 329v6M907 332h6M910 329v6M924 332h6M927 329v6M912 332h6M915 329v6M917 332h6M920 329v6M931 332h6M934 329v6M939 332h6M942 329v6M934 332h6M937 329v6M937 332h6M940 329v6M944 332h6M947 329v6M955 332h6M958 329v6M947 332h6M950 329v6M948 332h6M951 329v6M949 332h6M952 329v6M951 332h6M954 329v6M952 332h6M955 329v6M954 332h6M957 329v6M958 332h6M961 329v6M983 332h6M986 329v6M959 332h6M962 329v6M962 332h6M965 329v6M963 332h6M966 329v6M964 332h6M967 329v6M965 332h6M968 329v6M966 332h6M969 329v6M969 332h6M972 329v6M971 332h6M974 329v6M975 332h6M978 329v6M976 332h6M979 329v6M978 332h6M981 329v6M979 332h6M982 329v6M981 332h6M984 329v6M989 332h6M992 329v6M987 332h6M990 329v6M988 332h6M991 329v6M993 332h6M996 329v6M1001 332h6M1004 329v6M1005 332h6M1008 329v6M1011 332h6M1014 329v6M1007 332h6M1010 329v6M1008 332h6M1011 329v6M1010 332h6M1013 329v6M1015 332h6M1018 329v6M1043 332h6M1046 329v6M1022 332h6M1025 329v6M1026 332h6M1029 329v6M1033 332h6M1036 329v6M1054 332h6M1057 329v6M645 343h6M648 340v6M829 343h6M832 340v6M840 343h6M843 340v6M850 343h6M853 340v6M859 343h6M862 340v6M878 343h6M881 340v6M889 343h6M892 340v6M884 343h6M887 340v6M913 343h6M916 340v6M919 343h6M922 340v6M925 343h6M928 340v6M922 343h6M925 340v6M923 343h6M926 340v6M931 343h6M934 340v6M943 343h6M946 340v6M961 343h6M964 340v6M947 343h6M950 340v6M952 343h6M955 340v6M956 343h6M959 340v6M958 343h6M961 340v6M964 343h6M967 340v6M978 343h6M981 340v6M970 343h6M973 340v6M974 343h6M977 340v6M982 343h6M985 340v6M991 343h6M994 340v6M985 343h6M988 340v6M988 343h6M991 340v6M989 343h6M992 340v6M998 343h6M1001 340v6M1013 343h6M1016 340v6M999 343h6M1002 340v6M1001 343h6M1004 340v6M1002 343h6M1005 340v6M1006 343h6M1009 340v6M1007 343h6M1010 340v6M1009 343h6M1012 340v6M1031 343h6M1034 340v6M1015 343h6M1018 340v6M1016 343h6M1019 340v6M1017 343h6M1020 340v6M1019 343h6M1022 340v6M1020 343h6M1023 340v6M1021 343h6M1024 340v6M1025 343h6M1028 340v6M1026 343h6M1029 340v6M1027 343h6M1030 340v6M1029 343h6M1032 340v6M1045 343h6M1048 340v6M1032 343h6M1035 340v6M1033 343h6M1036 340v6M1034 343h6M1037 340v6M1035 343h6M1038 340v6M1038 343h6M1041 340v6M1039 343h6M1042 340v6M1040 343h6M1043 340v6M1041 343h6M1044 340v6M1051 343h6M1054 340v6M1055 343h6M1058 340v6M1052 343h6M1055 340v6M1054 343h6M1057 340v6M645 354h6M648 351v6M839 354h6M842 351v6M921 354h6M924 351v6M925 354h6M928 351v6M922 354h6M925 351v6M931 354h6M934 351v6M942 354h6M945 351v6M949 354h6M952 351v6M957 354h6M960 351v6M968 354h6M971 351v6M958 354h6M961 351v6M961 354h6M964 351v6M964 354h6M967 351v6M966 354h6M969 351v6M967 354h6M970 351v6M979 354h6M982 351v6M989 354h6M992 351v6M1003 354h6M1006 351v6M1015 354h6M1018 351v6M1005 354h6M1008 351v6M1006 354h6M1009 351v6M1008 354h6M1011 351v6M1010 354h6M1013 351v6M1011 354h6M1014 351v6M1012 354h6M1015 351v6M1013 354h6M1016 351v6M1019 354h6M1022 351v6M1025 354h6M1028 351v6M1021 354h6M1024 351v6M1033 354h6M1036 351v6M1059 354h6M1062 351v6M1034 354h6M1037 351v6M1036 354h6M1039 351v6M1037 354h6M1040 351v6M1038 354h6M1041 351v6M1039 354h6M1042 351v6M1041 354h6M1044 351v6M1042 354h6M1045 351v6M1043 354h6M1046 351v6M1044 354h6M1047 351v6M1045 354h6M1048 351v6M1046 354h6M1049 351v6M1048 354h6M1051 351v6M1049 354h6M1052 351v6M1051 354h6M1054 351v6M1052 354h6M1055 351v6M1054 354h6M1057 351v6M1055 354h6M1058 351v6M1058 354h6M1061 351v6M839 365h6M842 362v6M923 365h6M926 362v6M942 365h6M945 362v6M961 365h6M964 362v6M969 365h6M972 362v6M962 365h6M965 362v6M964 365h6M967 362v6M966 365h6M969 362v6M968 365h6M971 362v6M977 365h6M980 362v6M982 365h6M985 362v6M978 365h6M981 362v6M979 365h6M982 362v6M980 365h6M983 362v6M1003 365h6M1006 362v6M1011 365h6M1014 362v6M1025 365h6M1028 362v6M1012 365h6M1015 362v6M1015 365h6M1018 362v6M1016 365h6M1019 362v6M1018 365h6M1021 362v6M1020 365h6M1023 362v6M1021 365h6M1024 362v6M1023 365h6M1026 362v6M1033 365h6M1036 362v6M1041 365h6M1044 362v6M1049 365h6M1052 362v6M1058 365h6M1061 362v6M961 376h6M964 373v6M969 376h6M972 373v6M1000 376h6M1003 373v6M1023 376h6M1026 373v6M1039 376h6M1042 373v6M1055 376h6M1058 373v6M1059 376h6M1062 373v6M1056 376h6M1059 373v6M961 387h6M964 384v6M1000 387h6M1003 384v6M1055 387h6M1058 384v6M1059 387h6M1062 384v6M1056 387h6M1059 384v6M1057 387h6M1060 384v6M1058 387h6M1061 384v6M1000 399h6M1003 396v6M1055 399h6M1058 396v6M1055 410h6M1058 407v6M1092 310h6M1095 307v6M1174 310h6M1177 307v6M1195 310h6M1198 307v6M1061 321h6M1064 318v6M1092 321h6M1095 318v6M1174 321h6M1177 318v6M1195 321h6M1198 318v6M1061 332h6M1064 329v6M1065 332h6M1068 329v6M1062 332h6M1065 329v6M1064 332h6M1067 329v6M1085 332h6M1088 329v6M1093 332h6M1096 329v6M1102 332h6M1105 329v6M1167 332h6M1170 329v6M1174 332h6M1177 329v6M1196 332h6M1199 329v6M1227 332h6M1230 329v6M1270 332h6M1273 329v6M1150 432h6M1153 429v6M1173 432h6M1176 429v6M1225 432h6M1228 429v6M1233 432h6M1236 429v6M1250 432h6M1253 429v6M1258 432h6M1261 429v6M1150 443h6M1153 440v6M1173 443h6M1176 440v6M1233 443h6M1236 440v6M1250 443h6M1253 440v6M1258 443h6M1261 440v6M1149 454h6M1152 451v6M1232 454h6M1235 451v6M1257 454h6M1260 451v6M1149 465h6M1152 462v6M1232 465h6M1235 462v6M1255 476h6M1258 473v6M1255 488h6M1258 485v6M1255 499h6M1258 496v6M1254 510h6M1257 507v6M1321 321h6M1324 318v6M1411 321h6M1414 318v6M1309 332h6M1312 329v6M1321 332h6M1324 329v6M1411 332h6M1414 329v6M1309 343h6M1312 340v6M1321 343h6M1324 340v6M1360 343h6M1363 340v6M1411 343h6M1414 340v6M1309 354h6M1312 351v6M1322 354h6M1325 351v6M1346 354h6M1349 351v6M1360 354h6M1363 351v6M1411 354h6M1414 351v6M1310 365h6M1313 362v6M1322 365h6M1325 362v6M1346 365h6M1349 362v6M1361 365h6M1364 362v6M1411 365h6M1414 362v6M1545 421h6M1548 418v6M1691 421h6M1694 418v6M1541 432h6M1544 429v6M1548 432h6M1551 429v6M1543 432h6M1546 429v6M1545 432h6M1548 429v6M1546 432h6M1549 429v6M1547 432h6M1550 429v6M1556 432h6M1559 429v6M1583 432h6M1586 429v6M1691 432h6M1694 429v6M1805 432h6M1808 429v6M1535 443h6M1538 440v6M1549 443h6M1552 440v6M1536 443h6M1539 440v6M1537 443h6M1540 440v6M1538 443h6M1541 440v6M1539 443h6M1542 440v6M1541 443h6M1544 440v6M1542 443h6M1545 440v6M1546 443h6M1549 440v6M1547 443h6M1550 440v6M1548 443h6M1551 440v6M1556 443h6M1559 440v6M1562 443h6M1565 440v6M1568 443h6M1571 440v6M1573 443h6M1576 440v6M1569 443h6M1572 440v6M1572 443h6M1575 440v6M1578 443h6M1581 440v6M1585 443h6M1588 440v6M1579 443h6M1582 440v6M1582 443h6M1585 440v6M1584 443h6M1587 440v6M1623 443h6M1626 440v6M1647 443h6M1650 440v6M1691 443h6M1694 440v6M1698 443h6M1701 440v6M1535 454h6M1538 451v6M1549 454h6M1552 451v6M1537 454h6M1540 451v6M1538 454h6M1541 451v6M1542 454h6M1545 451v6M1543 454h6M1546 451v6M1544 454h6M1547 451v6M1545 454h6M1548 451v6M1546 454h6M1549 451v6M1547 454h6M1550 451v6M1548 454h6M1551 451v6M1555 454h6M1558 451v6M1587 454h6M1590 451v6M1556 454h6M1559 451v6M1558 454h6M1561 451v6M1562 454h6M1565 451v6M1563 454h6M1566 451v6M1565 454h6M1568 451v6M1566 454h6M1569 451v6M1569 454h6M1572 451v6M1570 454h6M1573 451v6M1573 454h6M1576 451v6M1574 454h6M1577 451v6M1575 454h6M1578 451v6M1577 454h6M1580 451v6M1580 454h6M1583 451v6M1582 454h6M1585 451v6M1585 454h6M1588 451v6M1586 454h6M1589 451v6M1589 454h6M1592 451v6M1598 454h6M1601 451v6M1591 454h6M1594 451v6M1595 454h6M1598 451v6M1597 454h6M1600 451v6M1607 454h6M1610 451v6M1617 454h6M1620 451v6M1626 454h6M1629 451v6M1618 454h6M1621 451v6M1620 454h6M1623 451v6M1621 454h6M1624 451v6M1623 454h6M1626 451v6M1625 454h6M1628 451v6M1647 454h6M1650 451v6M1691 454h6M1694 451v6M1698 454h6M1701 451v6M1749 454h6M1752 451v6M1547 465h6M1550 462v6M1587 465h6M1590 462v6M1550 465h6M1553 462v6M1554 465h6M1557 462v6M1555 465h6M1558 462v6M1556 465h6M1559 462v6M1557 465h6M1560 462v6M1558 465h6M1561 462v6M1559 465h6M1562 462v6M1560 465h6M1563 462v6M1561 465h6M1564 462v6M1564 465h6M1567 462v6M1565 465h6M1568 462v6M1566 465h6M1569 462v6M1567 465h6M1570 462v6M1569 465h6M1572 462v6M1570 465h6M1573 462v6M1572 465h6M1575 462v6M1574 465h6M1577 462v6M1578 465h6M1581 462v6M1581 465h6M1584 462v6M1584 465h6M1587 462v6M1585 465h6M1588 462v6M1586 465h6M1589 462v6M1617 465h6M1620 462v6M1588 465h6M1591 462v6M1589 465h6M1592 462v6M1590 465h6M1593 462v6M1591 465h6M1594 462v6M1593 465h6M1596 462v6M1594 465h6M1597 462v6M1595 465h6M1598 462v6M1596 465h6M1599 462v6M1597 465h6M1600 462v6M1598 465h6M1601 462v6M1599 465h6M1602 462v6M1600 465h6M1603 462v6M1603 465h6M1606 462v6M1607 465h6M1610 462v6M1608 465h6M1611 462v6M1609 465h6M1612 462v6M1610 465h6M1613 462v6M1612 465h6M1615 462v6M1616 465h6M1619 462v6M1622 465h6M1625 462v6M1635 465h6M1638 462v6M1624 465h6M1627 462v6M1625 465h6M1628 462v6M1626 465h6M1629 462v6M1627 465h6M1630 462v6M1630 465h6M1633 462v6M1631 465h6M1634 462v6M1645 465h6M1648 462v6M1649 465h6M1652 462v6M1646 465h6M1649 462v6M1656 465h6M1659 462v6M1665 465h6M1668 462v6M1669 465h6M1672 462v6M1678 465h6M1681 462v6M1691 465h6M1694 462v6M1706 465h6M1709 462v6M1696 465h6M1699 462v6M1700 465h6M1703 462v6M1716 465h6M1719 462v6M1726 465h6M1729 462v6M1750 465h6M1753 462v6M1548 476h6M1551 473v6M1566 476h6M1569 473v6M1550 476h6M1553 473v6M1551 476h6M1554 473v6M1553 476h6M1556 473v6M1555 476h6M1558 473v6M1556 476h6M1559 473v6M1560 476h6M1563 473v6M1563 476h6M1566 473v6M1564 476h6M1567 473v6M1565 476h6M1568 473v6M1577 476h6M1580 473v6M1593 476h6M1596 473v6M1617 476h6M1620 473v6M1594 476h6M1597 473v6M1596 476h6M1599 473v6M1598 476h6M1601 473v6M1599 476h6M1602 473v6M1601 476h6M1604 473v6M1602 476h6M1605 473v6M1603 476h6M1606 473v6M1604 476h6M1607 473v6M1606 476h6M1609 473v6M1610 476h6M1613 473v6M1611 476h6M1614 473v6M1613 476h6M1616 473v6M1614 476h6M1617 473v6M1615 476h6M1618 473v6M1616 476h6M1619 473v6M1642 476h6M1645 473v6M1621 476h6M1624 473v6M1622 476h6M1625 473v6M1623 476h6M1626 473v6M1625 476h6M1628 473v6M1626 476h6M1629 473v6M1627 476h6M1630 473v6M1628 476h6M1631 473v6M1629 476h6M1632 473v6M1633 476h6M1636 473v6M1637 476h6M1640 473v6M1640 476h6M1643 473v6M1669 476h6M1672 473v6M1644 476h6M1647 473v6M1646 476h6M1649 473v6M1647 476h6M1650 473v6M1649 476h6M1652 473v6M1650 476h6M1653 473v6M1652 476h6M1655 473v6M1653 476h6M1656 473v6M1655 476h6M1658 473v6M1657 476h6M1660 473v6M1660 476h6M1663 473v6M1661 476h6M1664 473v6M1662 476h6M1665 473v6M1665 476h6M1668 473v6M1667 476h6M1670 473v6M1668 476h6M1671 473v6M1676 476h6M1679 473v6M1682 476h6M1685 473v6M1678 476h6M1681 473v6M1679 476h6M1682 473v6M1681 476h6M1684 473v6M1692 476h6M1695 473v6M1698 476h6M1701 473v6M1703 476h6M1706 473v6M1718 476h6M1721 473v6M1705 476h6M1708 473v6M1706 476h6M1709 473v6M1708 476h6M1711 473v6M1709 476h6M1712 473v6M1710 476h6M1713 473v6M1711 476h6M1714 473v6M1715 476h6M1718 473v6M1716 476h6M1719 473v6M1727 476h6M1730 473v6M1739 476h6M1742 473v6M1751 476h6M1754 473v6M1768 476h6M1771 473v6M1785 476h6M1788 473v6M1800 476h6M1803 473v6M1553 488h6M1556 485v6M1564 488h6M1567 485v6M1585 488h6M1588 485v6M1595 488h6M1598 485v6M1603 488h6M1606 485v6M1597 488h6M1600 485v6M1599 488h6M1602 485v6M1600 488h6M1603 485v6M1616 488h6M1619 485v6M1622 488h6M1625 485v6M1618 488h6M1621 485v6M1620 488h6M1623 485v6M1621 488h6M1624 485v6M1627 488h6M1630 485v6M1633 488h6M1636 485v6M1628 488h6M1631 485v6M1629 488h6M1632 485v6M1631 488h6M1634 485v6M1632 488h6M1635 485v6M1638 488h6M1641 485v6M1657 488h6M1660 485v6M1640 488h6M1643 485v6M1644 488h6M1647 485v6M1647 488h6M1650 485v6M1649 488h6M1652 485v6M1653 488h6M1656 485v6M1654 488h6M1657 485v6M1698 488h6M1701 485v6M1659 488h6M1662 485v6M1661 488h6M1664 485v6M1664 488h6M1667 485v6M1667 488h6M1670 485v6M1668 488h6M1671 485v6M1669 488h6M1672 485v6M1672 488h6M1675 485v6M1673 488h6M1676 485v6M1674 488h6M1677 485v6M1676 488h6M1679 485v6M1678 488h6M1681 485v6M1680 488h6M1683 485v6M1681 488h6M1684 485v6M1685 488h6M1688 485v6M1687 488h6M1690 485v6M1688 488h6M1691 485v6M1689 488h6M1692 485v6M1690 488h6M1693 485v6M1693 488h6M1696 485v6M1694 488h6M1697 485v6M1697 488h6M1700 485v6M1723 488h6M1726 485v6M1699 488h6M1702 485v6M1700 488h6M1703 485v6M1702 488h6M1705 485v6M1705 488h6M1708 485v6M1706 488h6M1709 485v6M1707 488h6M1710 485v6M1710 488h6M1713 485v6M1711 488h6M1714 485v6M1712 488h6M1715 485v6M1713 488h6M1716 485v6M1715 488h6M1718 485v6M1716 488h6M1719 485v6M1717 488h6M1720 485v6M1719 488h6M1722 485v6M1720 488h6M1723 485v6M1721 488h6M1724 485v6M1738 488h6M1741 485v6M1749 488h6M1752 485v6M1739 488h6M1742 485v6M1740 488h6M1743 485v6M1742 488h6M1745 485v6M1743 488h6M1746 485v6M1744 488h6M1747 485v6M1745 488h6M1748 485v6M1752 488h6M1755 485v6M1777 488h6M1780 485v6M1754 488h6M1757 485v6M1758 488h6M1761 485v6M1761 488h6M1764 485v6M1762 488h6M1765 485v6M1766 488h6M1769 485v6M1767 488h6M1770 485v6M1770 488h6M1773 485v6M1772 488h6M1775 485v6M1774 488h6M1777 485v6M1775 488h6M1778 485v6M1776 488h6M1779 485v6M1782 488h6M1785 485v6M1788 488h6M1791 485v6M1783 488h6M1786 485v6M1785 488h6M1788 485v6M1786 488h6M1789 485v6M1787 488h6M1790 485v6M1793 488h6M1796 485v6M1802 488h6M1805 485v6M1794 488h6M1797 485v6M1795 488h6M1798 485v6M1796 488h6M1799 485v6M1797 488h6M1800 485v6M1799 488h6M1802 485v6M1800 488h6M1803 485v6M1817 488h6M1820 485v6M1564 499h6M1567 496v6M1584 499h6M1587 496v6M1600 499h6M1603 496v6M1619 499h6M1622 496v6M1639 499h6M1642 496v6M1645 499h6M1648 496v6M1640 499h6M1643 496v6M1641 499h6M1644 496v6M1642 499h6M1645 496v6M1643 499h6M1646 496v6M1644 499h6M1647 496v6M1649 499h6M1652 496v6M1689 499h6M1692 496v6M1653 499h6M1656 496v6M1656 499h6M1659 496v6M1657 499h6M1660 496v6M1660 499h6M1663 496v6M1662 499h6M1665 496v6M1664 499h6M1667 496v6M1665 499h6M1668 496v6M1667 499h6M1670 496v6M1668 499h6M1671 496v6M1669 499h6M1672 496v6M1670 499h6M1673 496v6M1671 499h6M1674 496v6M1673 499h6M1676 496v6M1674 499h6M1677 496v6M1675 499h6M1678 496v6M1679 499h6M1682 496v6M1683 499h6M1686 496v6M1686 499h6M1689 496v6M1687 499h6M1690 496v6M1688 499h6M1691 496v6M1701 499h6M1704 496v6M1717 499h6M1720 496v6M1705 499h6M1708 496v6M1706 499h6M1709 496v6M1707 499h6M1710 496v6M1710 499h6M1713 496v6M1712 499h6M1715 496v6M1713 499h6M1716 496v6M1714 499h6M1717 496v6M1715 499h6M1718 496v6M1749 499h6M1752 496v6M1718 499h6M1721 496v6M1719 499h6M1722 496v6M1721 499h6M1724 496v6M1722 499h6M1725 496v6M1723 499h6M1726 496v6M1727 499h6M1730 496v6M1730 499h6M1733 496v6M1731 499h6M1734 496v6M1732 499h6M1735 496v6M1733 499h6M1736 496v6M1735 499h6M1738 496v6M1737 499h6M1740 496v6M1741 499h6M1744 496v6M1743 499h6M1746 496v6M1745 499h6M1748 496v6M1797 499h6M1800 496v6M1750 499h6M1753 496v6M1753 499h6M1756 496v6M1754 499h6M1757 496v6M1757 499h6M1760 496v6M1758 499h6M1761 496v6M1759 499h6M1762 496v6M1762 499h6M1765 496v6M1764 499h6M1767 496v6M1766 499h6M1769 496v6M1767 499h6M1770 496v6M1768 499h6M1771 496v6M1769 499h6M1772 496v6M1770 499h6M1773 496v6M1772 499h6M1775 496v6M1774 499h6M1777 496v6M1775 499h6M1778 496v6M1776 499h6M1779 496v6M1779 499h6M1782 496v6M1780 499h6M1783 496v6M1782 499h6M1785 496v6M1784 499h6M1787 496v6M1786 499h6M1789 496v6M1788 499h6M1791 496v6M1789 499h6M1792 496v6M1791 499h6M1794 496v6M1793 499h6M1796 496v6M1795 499h6M1798 496v6M1802 499h6M1805 496v6M1808 499h6M1811 496v6M1803 499h6M1806 496v6M1805 499h6M1808 496v6M1817 499h6M1820 496v6M1563 510h6M1566 507v6M1601 510h6M1604 507v6M1617 510h6M1620 507v6M1621 510h6M1624 507v6M1619 510h6M1622 507v6M1620 510h6M1623 507v6M1639 510h6M1642 507v6M1653 510h6M1656 507v6M1677 510h6M1680 507v6M1654 510h6M1657 507v6M1655 510h6M1658 507v6M1656 510h6M1659 507v6M1657 510h6M1660 507v6M1660 510h6M1663 507v6M1662 510h6M1665 507v6M1664 510h6M1667 507v6M1667 510h6M1670 507v6M1670 510h6M1673 507v6M1671 510h6M1674 507v6M1672 510h6M1675 507v6M1674 510h6M1677 507v6M1682 510h6M1685 507v6M1713 510h6M1716 507v6M1683 510h6M1686 507v6M1686 510h6M1689 507v6M1688 510h6M1691 507v6M1691 510h6M1694 507v6M1694 510h6M1697 507v6M1695 510h6M1698 507v6M1696 510h6M1699 507v6M1698 510h6M1701 507v6M1700 510h6M1703 507v6M1702 510h6M1705 507v6M1703 510h6M1706 507v6M1705 510h6M1708 507v6M1706 510h6M1709 507v6M1710 510h6M1713 507v6M1711 510h6M1714 507v6M1712 510h6M1715 507v6M1718 510h6M1721 507v6M1738 510h6M1741 507v6M1721 510h6M1724 507v6M1722 510h6M1725 507v6M1723 510h6M1726 507v6M1724 510h6M1727 507v6M1725 510h6M1728 507v6M1726 510h6M1729 507v6M1728 510h6M1731 507v6M1730 510h6M1733 507v6M1731 510h6M1734 507v6M1732 510h6M1735 507v6M1733 510h6M1736 507v6M1734 510h6M1737 507v6M1736 510h6M1739 507v6M1742 510h6M1745 507v6M1752 510h6M1755 507v6M1747 510h6M1750 507v6M1805 510h6M1808 507v6M1753 510h6M1756 507v6M1754 510h6M1757 507v6M1756 510h6M1759 507v6M1757 510h6M1760 507v6M1761 510h6M1764 507v6M1762 510h6M1765 507v6M1763 510h6M1766 507v6M1764 510h6M1767 507v6M1765 510h6M1768 507v6M1766 510h6M1769 507v6M1767 510h6M1770 507v6M1769 510h6M1772 507v6M1770 510h6M1773 507v6M1774 510h6M1777 507v6M1778 510h6M1781 507v6M1779 510h6M1782 507v6M1780 510h6M1783 507v6M1781 510h6M1784 507v6M1783 510h6M1786 507v6M1784 510h6M1787 507v6M1785 510h6M1788 507v6M1786 510h6M1789 507v6M1788 510h6M1791 507v6M1791 510h6M1794 507v6M1793 510h6M1796 507v6M1794 510h6M1797 507v6M1795 510h6M1798 507v6M1796 510h6M1799 507v6M1800 510h6M1803 507v6M1802 510h6M1805 507v6M1819 510h6M1822 507v6M1806 510h6M1809 507v6M1808 510h6M1811 507v6M1811 510h6M1814 507v6M1814 510h6M1817 507v6M1817 510h6M1820 507v6M1618 521h6M1621 518v6M1653 521h6M1656 518v6M1659 521h6M1662 518v6M1654 521h6M1657 518v6M1658 521h6M1661 518v6M1666 521h6M1669 518v6M1673 521h6M1676 518v6M1669 521h6M1672 518v6M1671 521h6M1674 518v6M1682 521h6M1685 518v6M1698 521h6M1701 518v6M1689 521h6M1692 518v6M1693 521h6M1696 518v6M1718 521h6M1721 518v6M1735 521h6M1738 518v6M1719 521h6M1722 518v6M1723 521h6M1726 518v6M1725 521h6M1728 518v6M1726 521h6M1729 518v6M1728 521h6M1731 518v6M1732 521h6M1735 518v6M1733 521h6M1736 518v6M1734 521h6M1737 518v6M1741 521h6M1744 518v6M1760 521h6M1763 518v6M1771 521h6M1774 518v6M1779 521h6M1782 518v6M1796 521h6M1799 518v6M1785 521h6M1788 518v6M1789 521h6M1792 518v6M1803 521h6M1806 518v6M1815 521h6M1818 518v6M1804 521h6M1807 518v6M1805 521h6M1808 518v6M1806 521h6M1809 518v6M1809 521h6M1812 518v6M1810 521h6M1813 518v6M1811 521h6M1814 518v6M1814 521h6M1817 518v6M1618 532h6M1621 529v6M1657 532h6M1660 529v6M1666 532h6M1669 529v6M1695 532h6M1698 529v6M1727 532h6M1730 529v6M1760 532h6M1763 529v6M1779 532h6M1782 529v6M1794 532h6M1797 529v6M1803 532h6M1806 529v6M1813 532h6M1816 529v6M1695 543h6M1698 540v6M1740 543h6M1743 540v6M1779 543h6M1782 540v6M1802 543h6M1805 540v6M1812 543h6M1815 540v6M1695 554h6M1698 551v6M1740 554h6M1743 551v6M1740 565h6M1743 562v6M1740 576h6M1743 573v6M1060 343h6M1063 340v6M1067 343h6M1070 340v6M1061 343h6M1064 340v6M1063 343h6M1066 340v6M1065 343h6M1068 340v6M1066 343h6M1069 340v6M1070 343h6M1073 340v6M1078 343h6M1081 340v6M1087 343h6M1090 340v6M1080 343h6M1083 340v6M1083 343h6M1086 340v6M1085 343h6M1088 340v6M1093 343h6M1096 340v6M1102 343h6M1105 340v6M1106 343h6M1109 340v6M1104 343h6M1107 340v6M1105 343h6M1108 340v6M1112 343h6M1115 340v6M1115 343h6M1118 340v6M1137 343h6M1140 340v6M1167 343h6M1170 340v6M1174 343h6M1177 340v6M1197 343h6M1200 340v6M1201 343h6M1204 340v6M1199 343h6M1202 340v6M1200 343h6M1203 340v6M1227 343h6M1230 340v6M1270 343h6M1273 340v6M1074 354h6M1077 351v6M1060 354h6M1063 351v6M1062 354h6M1065 351v6M1065 354h6M1068 351v6M1066 354h6M1069 351v6M1069 354h6M1072 351v6M1070 354h6M1073 351v6M1071 354h6M1074 351v6M1072 354h6M1075 351v6M1077 354h6M1080 351v6M1091 354h6M1094 351v6M1079 354h6M1082 351v6M1084 354h6M1087 351v6M1089 354h6M1092 351v6M1094 354h6M1097 351v6M1118 354h6M1121 351v6M1097 354h6M1100 351v6M1099 354h6M1102 351v6M1100 354h6M1103 351v6M1102 354h6M1105 351v6M1104 354h6M1107 351v6M1107 354h6M1110 351v6M1109 354h6M1112 351v6M1110 354h6M1113 351v6M1112 354h6M1115 351v6M1113 354h6M1116 351v6M1115 354h6M1118 351v6M1116 354h6M1119 351v6M1117 354h6M1120 351v6M1127 354h6M1130 351v6M1135 354h6M1138 351v6M1145 354h6M1148 351v6M1140 354h6M1143 351v6M1142 354h6M1145 351v6M1152 354h6M1155 351v6M1160 354h6M1163 351v6M1156 354h6M1159 351v6M1157 354h6M1160 351v6M1158 354h6M1161 351v6M1159 354h6M1162 351v6M1168 354h6M1171 351v6M1173 354h6M1176 351v6M1179 354h6M1182 351v6M1175 354h6M1178 351v6M1176 354h6M1179 351v6M1191 354h6M1194 351v6M1203 354h6M1206 351v6M1193 354h6M1196 351v6M1198 354h6M1201 351v6M1209 354h6M1212 351v6M1228 354h6M1231 351v6M1235 354h6M1238 351v6M1271 354h6M1274 351v6M1279 354h6M1282 351v6M1286 354h6M1289 351v6M1283 354h6M1286 351v6M1284 354h6M1287 351v6M1285 354h6M1288 351v6M1059 365h6M1062 362v6M1064 365h6M1067 362v6M1060 365h6M1063 362v6M1061 365h6M1064 362v6M1063 365h6M1066 362v6M1067 365h6M1070 362v6M1074 365h6M1077 362v6M1069 365h6M1072 362v6M1071 365h6M1074 362v6M1079 365h6M1082 362v6M1085 365h6M1088 362v6M1080 365h6M1083 362v6M1083 365h6M1086 362v6M1084 365h6M1087 362v6M1088 365h6M1091 362v6M1107 365h6M1110 362v6M1090 365h6M1093 362v6M1092 365h6M1095 362v6M1097 365h6M1100 362v6M1099 365h6M1102 362v6M1101 365h6M1104 362v6M1104 365h6M1107 362v6M1134 365h6M1137 362v6M1108 365h6M1111 362v6M1109 365h6M1112 362v6M1111 365h6M1114 362v6M1113 365h6M1116 362v6M1116 365h6M1119 362v6M1117 365h6M1120 362v6M1119 365h6M1122 362v6M1121 365h6M1124 362v6M1122 365h6M1125 362v6M1124 365h6M1127 362v6M1128 365h6M1131 362v6M1130 365h6M1133 362v6M1132 365h6M1135 362v6M1133 365h6M1136 362v6M1148 365h6M1151 362v6M1136 365h6M1139 362v6M1138 365h6M1141 362v6M1140 365h6M1143 362v6M1144 365h6M1147 362v6M1147 365h6M1150 362v6M1153 365h6M1156 362v6M1159 365h6M1162 362v6M1168 365h6M1171 362v6M1181 365h6M1184 362v6M1170 365h6M1173 362v6M1173 365h6M1176 362v6M1176 365h6M1179 362v6M1178 365h6M1181 362v6M1187 365h6M1190 362v6M1199 365h6M1202 362v6M1189 365h6M1192 362v6M1194 365h6M1197 362v6M1196 365h6M1199 362v6M1203 365h6M1206 362v6M1213 365h6M1216 362v6M1206 365h6M1209 362v6M1207 365h6M1210 362v6M1209 365h6M1212 362v6M1211 365h6M1214 362v6M1212 365h6M1215 362v6M1219 365h6M1222 362v6M1229 365h6M1232 362v6M1221 365h6M1224 362v6M1223 365h6M1226 362v6M1225 365h6M1228 362v6M1227 365h6M1230 362v6M1235 365h6M1238 362v6M1244 365h6M1247 362v6M1251 365h6M1254 362v6M1246 365h6M1249 362v6M1247 365h6M1250 362v6M1248 365h6M1251 362v6M1250 365h6M1253 362v6M1271 365h6M1274 362v6M1279 365h6M1282 362v6M1287 365h6M1290 362v6M1282 365h6M1285 362v6M1068 376h6M1071 373v6M1073 376h6M1076 373v6M1087 376h6M1090 373v6M1101 376h6M1104 373v6M1091 376h6M1094 373v6M1094 376h6M1097 373v6M1099 376h6M1102 373v6M1108 376h6M1111 373v6M1128 376h6M1131 373v6M1109 376h6M1112 373v6M1110 376h6M1113 373v6M1112 376h6M1115 373v6M1114 376h6M1117 373v6M1115 376h6M1118 373v6M1119 376h6M1122 373v6M1120 376h6M1123 373v6M1121 376h6M1124 373v6M1124 376h6M1127 373v6M1126 376h6M1129 373v6M1130 376h6M1133 373v6M1144 376h6M1147 373v6M1133 376h6M1136 373v6M1137 376h6M1140 373v6M1139 376h6M1142 373v6M1142 376h6M1145 373v6M1157 376h6M1160 373v6M1147 376h6M1150 373v6M1150 376h6M1153 373v6M1152 376h6M1155 373v6M1155 376h6M1158 373v6M1184 376h6M1187 373v6M1161 376h6M1164 373v6M1162 376h6M1165 373v6M1163 376h6M1166 373v6M1164 376h6M1167 373v6M1166 376h6M1169 373v6M1168 376h6M1171 373v6M1169 376h6M1172 373v6M1171 376h6M1174 373v6M1172 376h6M1175 373v6M1174 376h6M1177 373v6M1177 376h6M1180 373v6M1178 376h6M1181 373v6M1179 376h6M1182 373v6M1181 376h6M1184 373v6M1182 376h6M1185 373v6M1199 376h6M1202 373v6M1186 376h6M1189 373v6M1189 376h6M1192 373v6M1193 376h6M1196 373v6M1195 376h6M1198 373v6M1201 376h6M1204 373v6M1213 376h6M1216 373v6M1202 376h6M1205 373v6M1203 376h6M1206 373v6M1204 376h6M1207 373v6M1206 376h6M1209 373v6M1208 376h6M1211 373v6M1210 376h6M1213 373v6M1217 376h6M1220 373v6M1229 376h6M1232 373v6M1219 376h6M1222 373v6M1221 376h6M1224 373v6M1222 376h6M1225 373v6M1223 376h6M1226 373v6M1224 376h6M1227 373v6M1225 376h6M1228 373v6M1226 376h6M1229 373v6M1228 376h6M1231 373v6M1235 376h6M1238 373v6M1243 376h6M1246 373v6M1251 376h6M1254 373v6M1245 376h6M1248 373v6M1249 376h6M1252 373v6M1250 376h6M1253 373v6M1261 376h6M1264 373v6M1274 376h6M1277 373v6M1264 376h6M1267 373v6M1268 376h6M1271 373v6M1270 376h6M1273 373v6M1272 376h6M1275 373v6M1281 376h6M1284 373v6M1287 376h6M1290 373v6M1285 376h6M1288 373v6M1087 387h6M1090 384v6M1094 387h6M1097 384v6M1110 387h6M1113 384v6M1119 387h6M1122 384v6M1131 387h6M1134 384v6M1141 387h6M1144 384v6M1132 387h6M1135 384v6M1135 387h6M1138 384v6M1136 387h6M1139 384v6M1137 387h6M1140 384v6M1138 387h6M1141 384v6M1139 387h6M1142 384v6M1140 387h6M1143 384v6M1148 387h6M1151 384v6M1154 387h6M1157 384v6M1159 387h6M1162 384v6M1169 387h6M1172 384v6M1163 387h6M1166 384v6M1164 387h6M1167 384v6M1168 387h6M1171 384v6M1177 387h6M1180 384v6M1203 387h6M1206 384v6M1178 387h6M1181 384v6M1182 387h6M1185 384v6M1184 387h6M1187 384v6M1185 387h6M1188 384v6M1189 387h6M1192 384v6M1193 387h6M1196 384v6M1197 387h6M1200 384v6M1201 387h6M1204 384v6M1234 387h6M1237 384v6M1206 387h6M1209 384v6M1209 387h6M1212 384v6M1211 387h6M1214 384v6M1212 387h6M1215 384v6M1213 387h6M1216 384v6M1214 387h6M1217 384v6M1215 387h6M1218 384v6M1219 387h6M1222 384v6M1223 387h6M1226 384v6M1225 387h6M1228 384v6M1226 387h6M1229 384v6M1229 387h6M1232 384v6M1233 387h6M1236 384v6M1237 387h6M1240 384v6M1243 387h6M1246 384v6M1249 387h6M1252 384v6M1257 387h6M1260 384v6M1263 387h6M1266 384v6M1290 387h6M1293 384v6M1264 387h6M1267 384v6M1265 387h6M1268 384v6M1266 387h6M1269 384v6M1268 387h6M1271 384v6M1270 387h6M1273 384v6M1271 387h6M1274 384v6M1272 387h6M1275 384v6M1273 387h6M1276 384v6M1276 387h6M1279 384v6M1277 387h6M1280 384v6M1278 387h6M1281 384v6M1280 387h6M1283 384v6M1283 387h6M1286 384v6M1285 387h6M1288 384v6M1287 387h6M1290 384v6M1288 387h6M1291 384v6M1088 399h6M1091 396v6M1132 399h6M1135 396v6M1151 399h6M1154 396v6M1160 399h6M1163 396v6M1168 399h6M1171 396v6M1161 399h6M1164 396v6M1162 399h6M1165 396v6M1166 399h6M1169 396v6M1167 399h6M1170 396v6M1175 399h6M1178 396v6M1179 399h6M1182 396v6M1184 399h6M1187 396v6M1190 399h6M1193 396v6M1196 399h6M1199 396v6M1209 399h6M1212 396v6M1219 399h6M1222 396v6M1211 399h6M1214 396v6M1213 399h6M1216 396v6M1215 399h6M1218 396v6M1217 399h6M1220 396v6M1218 399h6M1221 396v6M1224 399h6M1227 396v6M1239 399h6M1242 396v6M1229 399h6M1232 396v6M1231 399h6M1234 396v6M1233 399h6M1236 396v6M1249 399h6M1252 396v6M1259 399h6M1262 396v6M1250 399h6M1253 396v6M1254 399h6M1257 396v6M1256 399h6M1259 396v6M1258 399h6M1261 396v6M1284 399h6M1287 396v6M1262 399h6M1265 396v6M1266 399h6M1269 396v6M1267 399h6M1270 396v6M1269 399h6M1272 396v6M1273 399h6M1276 396v6M1277 399h6M1280 396v6M1278 399h6M1281 396v6M1279 399h6M1282 396v6M1280 399h6M1283 396v6M1283 399h6M1286 396v6M1297 399h6M1300 396v6M1287 399h6M1290 396v6M1288 399h6M1291 396v6M1291 399h6M1294 396v6M1293 399h6M1296 396v6M1295 399h6M1298 396v6M1087 410h6M1090 407v6M1132 410h6M1135 407v6M1150 410h6M1153 407v6M1163 410h6M1166 407v6M1174 410h6M1177 407v6M1210 410h6M1213 407v6M1218 410h6M1221 407v6M1214 410h6M1217 407v6M1225 410h6M1228 407v6M1241 410h6M1244 407v6M1227 410h6M1230 407v6M1229 410h6M1232 407v6M1234 410h6M1237 407v6M1236 410h6M1239 407v6M1250 410h6M1253 407v6M1260 410h6M1263 407v6M1251 410h6M1254 407v6M1253 410h6M1256 407v6M1254 410h6M1257 407v6M1255 410h6M1258 407v6M1256 410h6M1259 407v6M1257 410h6M1260 407v6M1273 410h6M1276 407v6M1280 410h6M1283 407v6M1274 410h6M1277 407v6M1275 410h6M1278 407v6M1277 410h6M1280 407v6M1278 410h6M1281 407v6M1279 410h6M1282 407v6M1289 410h6M1292 407v6M1297 410h6M1300 407v6M1290 410h6M1293 407v6M1291 410h6M1294 407v6M1292 410h6M1295 407v6M1293 410h6M1296 407v6M1295 410h6M1298 407v6M1296 410h6M1299 407v6M1150 421h6M1153 418v6M1173 421h6M1176 418v6M1210 421h6M1213 418v6M1225 421h6M1228 418v6M1232 421h6M1235 418v6M1237 421h6M1240 418v6M1241 421h6M1244 418v6M1251 421h6M1254 418v6M1258 421h6M1261 418v6M1293 421h6M1296 418v6M1297 421h6M1300 418v6M1295 421h6M1298 418v6M1311 376h6M1314 373v6M1320 376h6M1323 373v6M1346 376h6M1349 373v6M1361 376h6M1364 373v6M1426 376h6M1429 373v6M1493 376h6M1496 373v6M1307 387h6M1310 384v6M1313 387h6M1316 384v6M1310 387h6M1313 384v6M1311 387h6M1314 384v6M1318 387h6M1321 384v6M1327 387h6M1330 384v6M1319 387h6M1322 384v6M1323 387h6M1326 384v6M1324 387h6M1327 384v6M1346 387h6M1349 384v6M1352 387h6M1355 384v6M1361 387h6M1364 384v6M1366 387h6M1369 384v6M1362 387h6M1365 384v6M1364 387h6M1367 384v6M1412 387h6M1415 384v6M1474 387h6M1477 384v6M1493 387h6M1496 384v6M1305 399h6M1308 396v6M1308 399h6M1311 396v6M1318 399h6M1321 396v6M1331 399h6M1334 396v6M1320 399h6M1323 396v6M1324 399h6M1327 396v6M1327 399h6M1330 396v6M1329 399h6M1332 396v6M1337 399h6M1340 396v6M1342 399h6M1345 396v6M1338 399h6M1341 396v6M1351 399h6M1354 396v6M1356 399h6M1359 396v6M1352 399h6M1355 396v6M1354 399h6M1357 396v6M1355 399h6M1358 396v6M1361 399h6M1364 396v6M1377 399h6M1380 396v6M1365 399h6M1368 396v6M1367 399h6M1370 396v6M1370 399h6M1373 396v6M1371 399h6M1374 396v6M1373 399h6M1376 396v6M1374 399h6M1377 396v6M1389 399h6M1392 396v6M1403 399h6M1406 396v6M1412 399h6M1415 396v6M1419 399h6M1422 396v6M1427 399h6M1430 396v6M1473 399h6M1476 396v6M1476 399h6M1479 396v6M1493 399h6M1496 396v6M1325 410h6M1328 407v6M1299 410h6M1302 407v6M1300 410h6M1303 407v6M1301 410h6M1304 407v6M1302 410h6M1305 407v6M1303 410h6M1306 407v6M1307 410h6M1310 407v6M1309 410h6M1312 407v6M1313 410h6M1316 407v6M1316 410h6M1319 407v6M1320 410h6M1323 407v6M1323 410h6M1326 407v6M1342 410h6M1345 407v6M1328 410h6M1331 407v6M1329 410h6M1332 407v6M1332 410h6M1335 407v6M1333 410h6M1336 407v6M1334 410h6M1337 407v6M1335 410h6M1338 407v6M1339 410h6M1342 407v6M1341 410h6M1344 407v6M1351 410h6M1354 407v6M1357 410h6M1360 407v6M1353 410h6M1356 407v6M1354 410h6M1357 407v6M1356 410h6M1359 407v6M1361 410h6M1364 407v6M1386 410h6M1389 407v6M1362 410h6M1365 407v6M1363 410h6M1366 407v6M1364 410h6M1367 407v6M1367 410h6M1370 407v6M1369 410h6M1372 407v6M1370 410h6M1373 407v6M1372 410h6M1375 407v6M1373 410h6M1376 407v6M1375 410h6M1378 407v6M1377 410h6M1380 407v6M1381 410h6M1384 407v6M1383 410h6M1386 407v6M1384 410h6M1387 407v6M1385 410h6M1388 407v6M1390 410h6M1393 407v6M1403 410h6M1406 407v6M1413 410h6M1416 407v6M1404 410h6M1407 407v6M1408 410h6M1411 407v6M1409 410h6M1412 407v6M1411 410h6M1414 407v6M1419 410h6M1422 407v6M1427 410h6M1430 407v6M1446 410h6M1449 407v6M1455 410h6M1458 407v6M1474 410h6M1477 407v6M1482 410h6M1485 407v6M1479 410h6M1482 407v6M1493 410h6M1496 407v6M1308 421h6M1311 418v6M1299 421h6M1302 418v6M1300 421h6M1303 418v6M1301 421h6M1304 418v6M1302 421h6M1305 418v6M1305 421h6M1308 418v6M1306 421h6M1309 418v6M1307 421h6M1310 418v6M1313 421h6M1316 418v6M1319 421h6M1322 418v6M1314 421h6M1317 418v6M1315 421h6M1318 418v6M1316 421h6M1319 418v6M1318 421h6M1321 418v6M1327 421h6M1330 418v6M1333 421h6M1336 418v6M1338 421h6M1341 418v6M1334 421h6M1337 418v6M1335 421h6M1338 418v6M1337 421h6M1340 418v6M1342 421h6M1345 418v6M1351 421h6M1354 418v6M1343 421h6M1346 418v6M1347 421h6M1350 418v6M1356 421h6M1359 418v6M1361 421h6M1364 418v6M1358 421h6M1361 418v6M1359 421h6M1362 418v6M1360 421h6M1363 418v6M1369 421h6M1372 418v6M1399 421h6M1402 418v6M1373 421h6M1376 418v6M1374 421h6M1377 418v6M1375 421h6M1378 418v6M1378 421h6M1381 418v6M1379 421h6M1382 418v6M1380 421h6M1383 418v6M1381 421h6M1384 418v6M1384 421h6M1387 418v6M1385 421h6M1388 418v6M1386 421h6M1389 418v6M1387 421h6M1390 418v6M1389 421h6M1392 418v6M1393 421h6M1396 418v6M1395 421h6M1398 418v6M1396 421h6M1399 418v6M1398 421h6M1401 418v6M1416 421h6M1419 418v6M1400 421h6M1403 418v6M1401 421h6M1404 418v6M1402 421h6M1405 418v6M1406 421h6M1409 418v6M1407 421h6M1410 418v6M1409 421h6M1412 418v6M1412 421h6M1415 418v6M1413 421h6M1416 418v6M1414 421h6M1417 418v6M1419 421h6M1422 418v6M1427 421h6M1430 418v6M1438 421h6M1441 418v6M1457 421h6M1460 418v6M1442 421h6M1445 418v6M1446 421h6M1449 418v6M1453 421h6M1456 418v6M1469 421h6M1472 418v6M1477 421h6M1480 418v6M1472 421h6M1475 418v6M1473 421h6M1476 418v6M1476 421h6M1479 418v6M1482 421h6M1485 418v6M1489 421h6M1492 418v6M1497 421h6M1500 418v6M1491 421h6M1494 418v6M1492 421h6M1495 418v6M1494 421h6M1497 418v6M1495 421h6M1498 418v6M1514 421h6M1517 418v6M1299 432h6M1302 429v6M1306 432h6M1309 429v6M1300 432h6M1303 429v6M1301 432h6M1304 429v6M1302 432h6M1305 429v6M1311 432h6M1314 429v6M1318 432h6M1321 429v6M1326 432h6M1329 429v6M1341 432h6M1344 429v6M1351 432h6M1354 429v6M1342 432h6M1345 429v6M1343 432h6M1346 429v6M1345 432h6M1348 429v6M1346 432h6M1349 429v6M1347 432h6M1350 429v6M1350 432h6M1353 429v6M1356 432h6M1359 429v6M1361 432h6M1364 429v6M1359 432h6M1362 429v6M1360 432h6M1363 429v6M1379 432h6M1382 429v6M1409 432h6M1412 429v6M1382 432h6M1385 429v6M1383 432h6M1386 429v6M1385 432h6M1388 429v6M1386 432h6M1389 429v6M1390 432h6M1393 429v6M1391 432h6M1394 429v6M1392 432h6M1395 429v6M1395 432h6M1398 429v6M1396 432h6M1399 429v6M1397 432h6M1400 429v6M1399 432h6M1402 429v6M1403 432h6M1406 429v6M1404 432h6M1407 429v6M1405 432h6M1408 429v6M1406 432h6M1409 429v6M1408 432h6M1411 429v6M1437 432h6M1440 429v6M1412 432h6M1415 429v6M1414 432h6M1417 429v6M1415 432h6M1418 429v6M1416 432h6M1419 429v6M1420 432h6M1423 429v6M1424 432h6M1427 429v6M1428 432h6M1431 429v6M1429 432h6M1432 429v6M1431 432h6M1434 429v6M1432 432h6M1435 429v6M1433 432h6M1436 429v6M1435 432h6M1438 429v6M1457 432h6M1460 429v6M1439 432h6M1442 429v6M1440 432h6M1443 429v6M1442 432h6M1445 429v6M1443 432h6M1446 429v6M1444 432h6M1447 429v6M1447 432h6M1450 429v6M1448 432h6M1451 429v6M1452 432h6M1455 429v6M1453 432h6M1456 429v6M1454 432h6M1457 429v6M1456 432h6M1459 429v6M1463 432h6M1466 429v6M1501 432h6M1504 429v6M1467 432h6M1470 429v6M1468 432h6M1471 429v6M1469 432h6M1472 429v6M1473 432h6M1476 429v6M1474 432h6M1477 429v6M1478 432h6M1481 429v6M1482 432h6M1485 429v6M1483 432h6M1486 429v6M1486 432h6M1489 429v6M1488 432h6M1491 429v6M1490 432h6M1493 429v6M1492 432h6M1495 429v6M1493 432h6M1496 429v6M1494 432h6M1497 429v6M1495 432h6M1498 429v6M1496 432h6M1499 429v6M1497 432h6M1500 429v6M1508 432h6M1511 429v6M1517 432h6M1520 429v6M1512 432h6M1515 429v6M1513 432h6M1516 429v6M1514 432h6M1517 429v6M1515 432h6M1518 429v6M1516 432h6M1519 429v6M1303 443h6M1306 440v6M1313 443h6M1316 440v6M1321 443h6M1324 440v6M1342 443h6M1345 440v6M1348 443h6M1351 440v6M1343 443h6M1346 440v6M1346 443h6M1349 440v6M1356 443h6M1359 440v6M1381 443h6M1384 440v6M1391 443h6M1394 440v6M1402 443h6M1405 440v6M1395 443h6M1398 440v6M1396 443h6M1399 440v6M1398 443h6M1401 440v6M1400 443h6M1403 440v6M1407 443h6M1410 440v6M1417 443h6M1420 440v6M1412 443h6M1415 440v6M1422 443h6M1425 440v6M1457 443h6M1460 440v6M1426 443h6M1429 440v6M1427 443h6M1430 440v6M1431 443h6M1434 440v6M1432 443h6M1435 440v6M1433 443h6M1436 440v6M1435 443h6M1438 440v6M1436 443h6M1439 440v6M1439 443h6M1442 440v6M1440 443h6M1443 440v6M1444 443h6M1447 440v6M1445 443h6M1448 440v6M1446 443h6M1449 440v6M1447 443h6M1450 440v6M1449 443h6M1452 440v6M1450 443h6M1453 440v6M1454 443h6M1457 440v6M1487 443h6M1490 440v6M1458 443h6M1461 440v6M1459 443h6M1462 440v6M1460 443h6M1463 440v6M1461 443h6M1464 440v6M1462 443h6M1465 440v6M1463 443h6M1466 440v6M1464 443h6M1467 440v6M1465 443h6M1468 440v6M1468 443h6M1471 440v6M1470 443h6M1473 440v6M1471 443h6M1474 440v6M1472 443h6M1475 440v6M1473 443h6M1476 440v6M1475 443h6M1478 440v6M1477 443h6M1480 440v6M1479 443h6M1482 440v6M1481 443h6M1484 440v6M1483 443h6M1486 440v6M1505 443h6M1508 440v6M1488 443h6M1491 440v6M1489 443h6M1492 440v6M1490 443h6M1493 440v6M1492 443h6M1495 440v6M1496 443h6M1499 440v6M1497 443h6M1500 440v6M1498 443h6M1501 440v6M1500 443h6M1503 440v6M1503 443h6M1506 440v6M1504 443h6M1507 440v6M1507 443h6M1510 440v6M1517 443h6M1520 440v6M1508 443h6M1511 440v6M1510 443h6M1513 440v6M1512 443h6M1515 440v6M1514 443h6M1517 440v6M1516 443h6M1519 440v6M1523 443h6M1526 440v6M1533 443h6M1536 440v6M1321 454h6M1324 451v6M1356 454h6M1359 451v6M1422 454h6M1425 451v6M1437 454h6M1440 451v6M1423 454h6M1426 451v6M1425 454h6M1428 451v6M1426 454h6M1429 451v6M1428 454h6M1431 451v6M1429 454h6M1432 451v6M1431 454h6M1434 451v6M1432 454h6M1435 451v6M1433 454h6M1436 451v6M1434 454h6M1437 451v6M1435 454h6M1438 451v6M1441 454h6M1444 451v6M1469 454h6M1472 451v6M1442 454h6M1445 451v6M1444 454h6M1447 451v6M1447 454h6M1450 451v6M1448 454h6M1451 451v6M1449 454h6M1452 451v6M1450 454h6M1453 451v6M1451 454h6M1454 451v6M1453 454h6M1456 451v6M1454 454h6M1457 451v6M1455 454h6M1458 451v6M1456 454h6M1459 451v6M1457 454h6M1460 451v6M1458 454h6M1461 451v6M1459 454h6M1462 451v6M1460 454h6M1463 451v6M1461 454h6M1464 451v6M1462 454h6M1465 451v6M1465 454h6M1468 451v6M1466 454h6M1469 451v6M1475 454h6M1478 451v6M1489 454h6M1492 451v6M1479 454h6M1482 451v6M1482 454h6M1485 451v6M1483 454h6M1486 451v6M1485 454h6M1488 451v6M1486 454h6M1489 451v6M1487 454h6M1490 451v6M1495 454h6M1498 451v6M1507 454h6M1510 451v6M1496 454h6M1499 451v6M1498 454h6M1501 451v6M1499 454h6M1502 451v6M1500 454h6M1503 451v6M1501 454h6M1504 451v6M1503 454h6M1506 451v6M1504 454h6M1507 451v6M1506 454h6M1509 451v6M1509 454h6M1512 451v6M1510 454h6M1513 451v6M1511 454h6M1514 451v6M1513 454h6M1516 451v6M1514 454h6M1517 451v6M1515 454h6M1518 451v6M1518 454h6M1521 451v6M1519 454h6M1522 451v6M1522 454h6M1525 451v6M1526 454h6M1529 451v6M1527 454h6M1530 451v6M1529 454h6M1532 451v6M1530 454h6M1533 451v6M1533 454h6M1536 451v6M1534 454h6M1537 451v6M1321 465h6M1324 462v6M1356 465h6M1359 462v6M1412 465h6M1415 462v6M1419 465h6M1422 462v6M1427 465h6M1430 462v6M1420 465h6M1423 462v6M1421 465h6M1424 462v6M1422 465h6M1425 462v6M1423 465h6M1426 462v6M1434 465h6M1437 462v6M1441 465h6M1444 462v6M1453 465h6M1456 462v6M1458 465h6M1461 462v6M1454 465h6M1457 462v6M1456 465h6M1459 462v6M1476 465h6M1479 462v6M1479 465h6M1482 462v6M1477 465h6M1480 462v6M1478 465h6M1481 462v6M1487 465h6M1490 462v6M1499 465h6M1502 462v6M1505 465h6M1508 462v6M1500 465h6M1503 462v6M1502 465h6M1505 462v6M1516 465h6M1519 462v6M1535 465h6M1538 462v6M1517 465h6M1520 462v6M1519 465h6M1522 462v6M1521 465h6M1524 462v6M1522 465h6M1525 462v6M1524 465h6M1527 462v6M1525 465h6M1528 462v6M1526 465h6M1529 462v6M1528 465h6M1531 462v6M1529 465h6M1532 462v6M1530 465h6M1533 462v6M1532 465h6M1535 462v6M1534 465h6M1537 462v6M1412 476h6M1415 473v6M1421 476h6M1424 473v6M1457 476h6M1460 473v6M1504 476h6M1507 473v6M1516 476h6M1519 473v6M1535 476h6M1538 473v6M1517 476h6M1520 473v6M1520 476h6M1523 473v6M1521 476h6M1524 473v6M1522 476h6M1525 473v6M1524 476h6M1527 473v6M1525 476h6M1528 473v6M1529 476h6M1532 473v6M1530 476h6M1533 473v6M1531 476h6M1534 473v6M1533 476h6M1536 473v6M1534 476h6M1537 473v6M1421 488h6M1424 485v6M1503 488h6M1506 485v6M1523 488h6M1526 485v6M1533 488h6M1536 485v6M1527 488h6M1530 485v6M1528 488h6M1531 485v6M1530 488h6M1533 485v6M1531 488h6M1534 485v6M1421 499h6M1424 496v6M1503 499h6M1506 496v6M1523 499h6M1526 496v6M1532 499h6M1535 496v6M1524 499h6M1527 496v6M1525 499h6M1528 496v6M1526 499h6M1529 496v6M1527 499h6M1530 496v6M1530 499h6M1533 496v6M1529 510h6M1532 507v6" stroke="#0072BD" stroke-width="1.85" fill="none"/>
<clipPath id="ax"><rect x="117.5" y="20.5" width="1772.0" height="556.0"/></clipPath>
<path d="M108.37 142.3L1821 517.5" stroke="#ff0000" stroke-width="4.7" fill="none" clip-path="url(#ax)"/>
<text x="117.9" y="614.6" text-anchor="middle" font-size="25.5" fill="#262626">0</text>
<text x="390.4" y="614.6" text-anchor="middle" font-size="25.5" fill="#262626">10000</text>
<text x="662.8" y="614.6" text-anchor="middle" font-size="25.5" fill="#262626">20000</text>
<text x="935.2" y="614.6" text-anchor="middle" font-size="25.5" fill="#262626">30000</text>
<text x="1207.7" y="614.6" text-anchor="middle" font-size="25.5" fill="#262626">40000</text>
<text x="1480.2" y="614.6" text-anchor="middle" font-size="25.5" fill="#262626">50000</text>
<text x="1752.6" y="614.6" text-anchor="middle" font-size="25.5" fill="#262626">60000</text>
<text x="104.8" y="586.1" text-anchor="end" font-size="25.5" fill="#262626">3400</text>
<text x="104.8" y="474.9" text-anchor="end" font-size="25.5" fill="#262626">3500</text>
<text x="104.8" y="363.7" text-anchor="end" font-size="25.5" fill="#262626">3600</text>
<text x="104.8" y="252.5" text-anchor="end" font-size="25.5" fill="#262626">3700</text>
<text x="104.8" y="141.3" text-anchor="end" font-size="25.5" fill="#262626">3800</text>
<text x="104.8" y="30.1" text-anchor="end" font-size="25.5" fill="#262626">3900</text>
<text x="1002.9" y="640.5" text-anchor="middle" font-size="27.8" letter-spacing="0.5" fill="#262626">Zeit in Sekunden</text>
<text transform="translate(37.2,297.5) rotate(-90)" text-anchor="middle" font-size="27.8" letter-spacing="0.75" fill="#262626">CO2 in ppm</text>
</svg>
</body></html>
